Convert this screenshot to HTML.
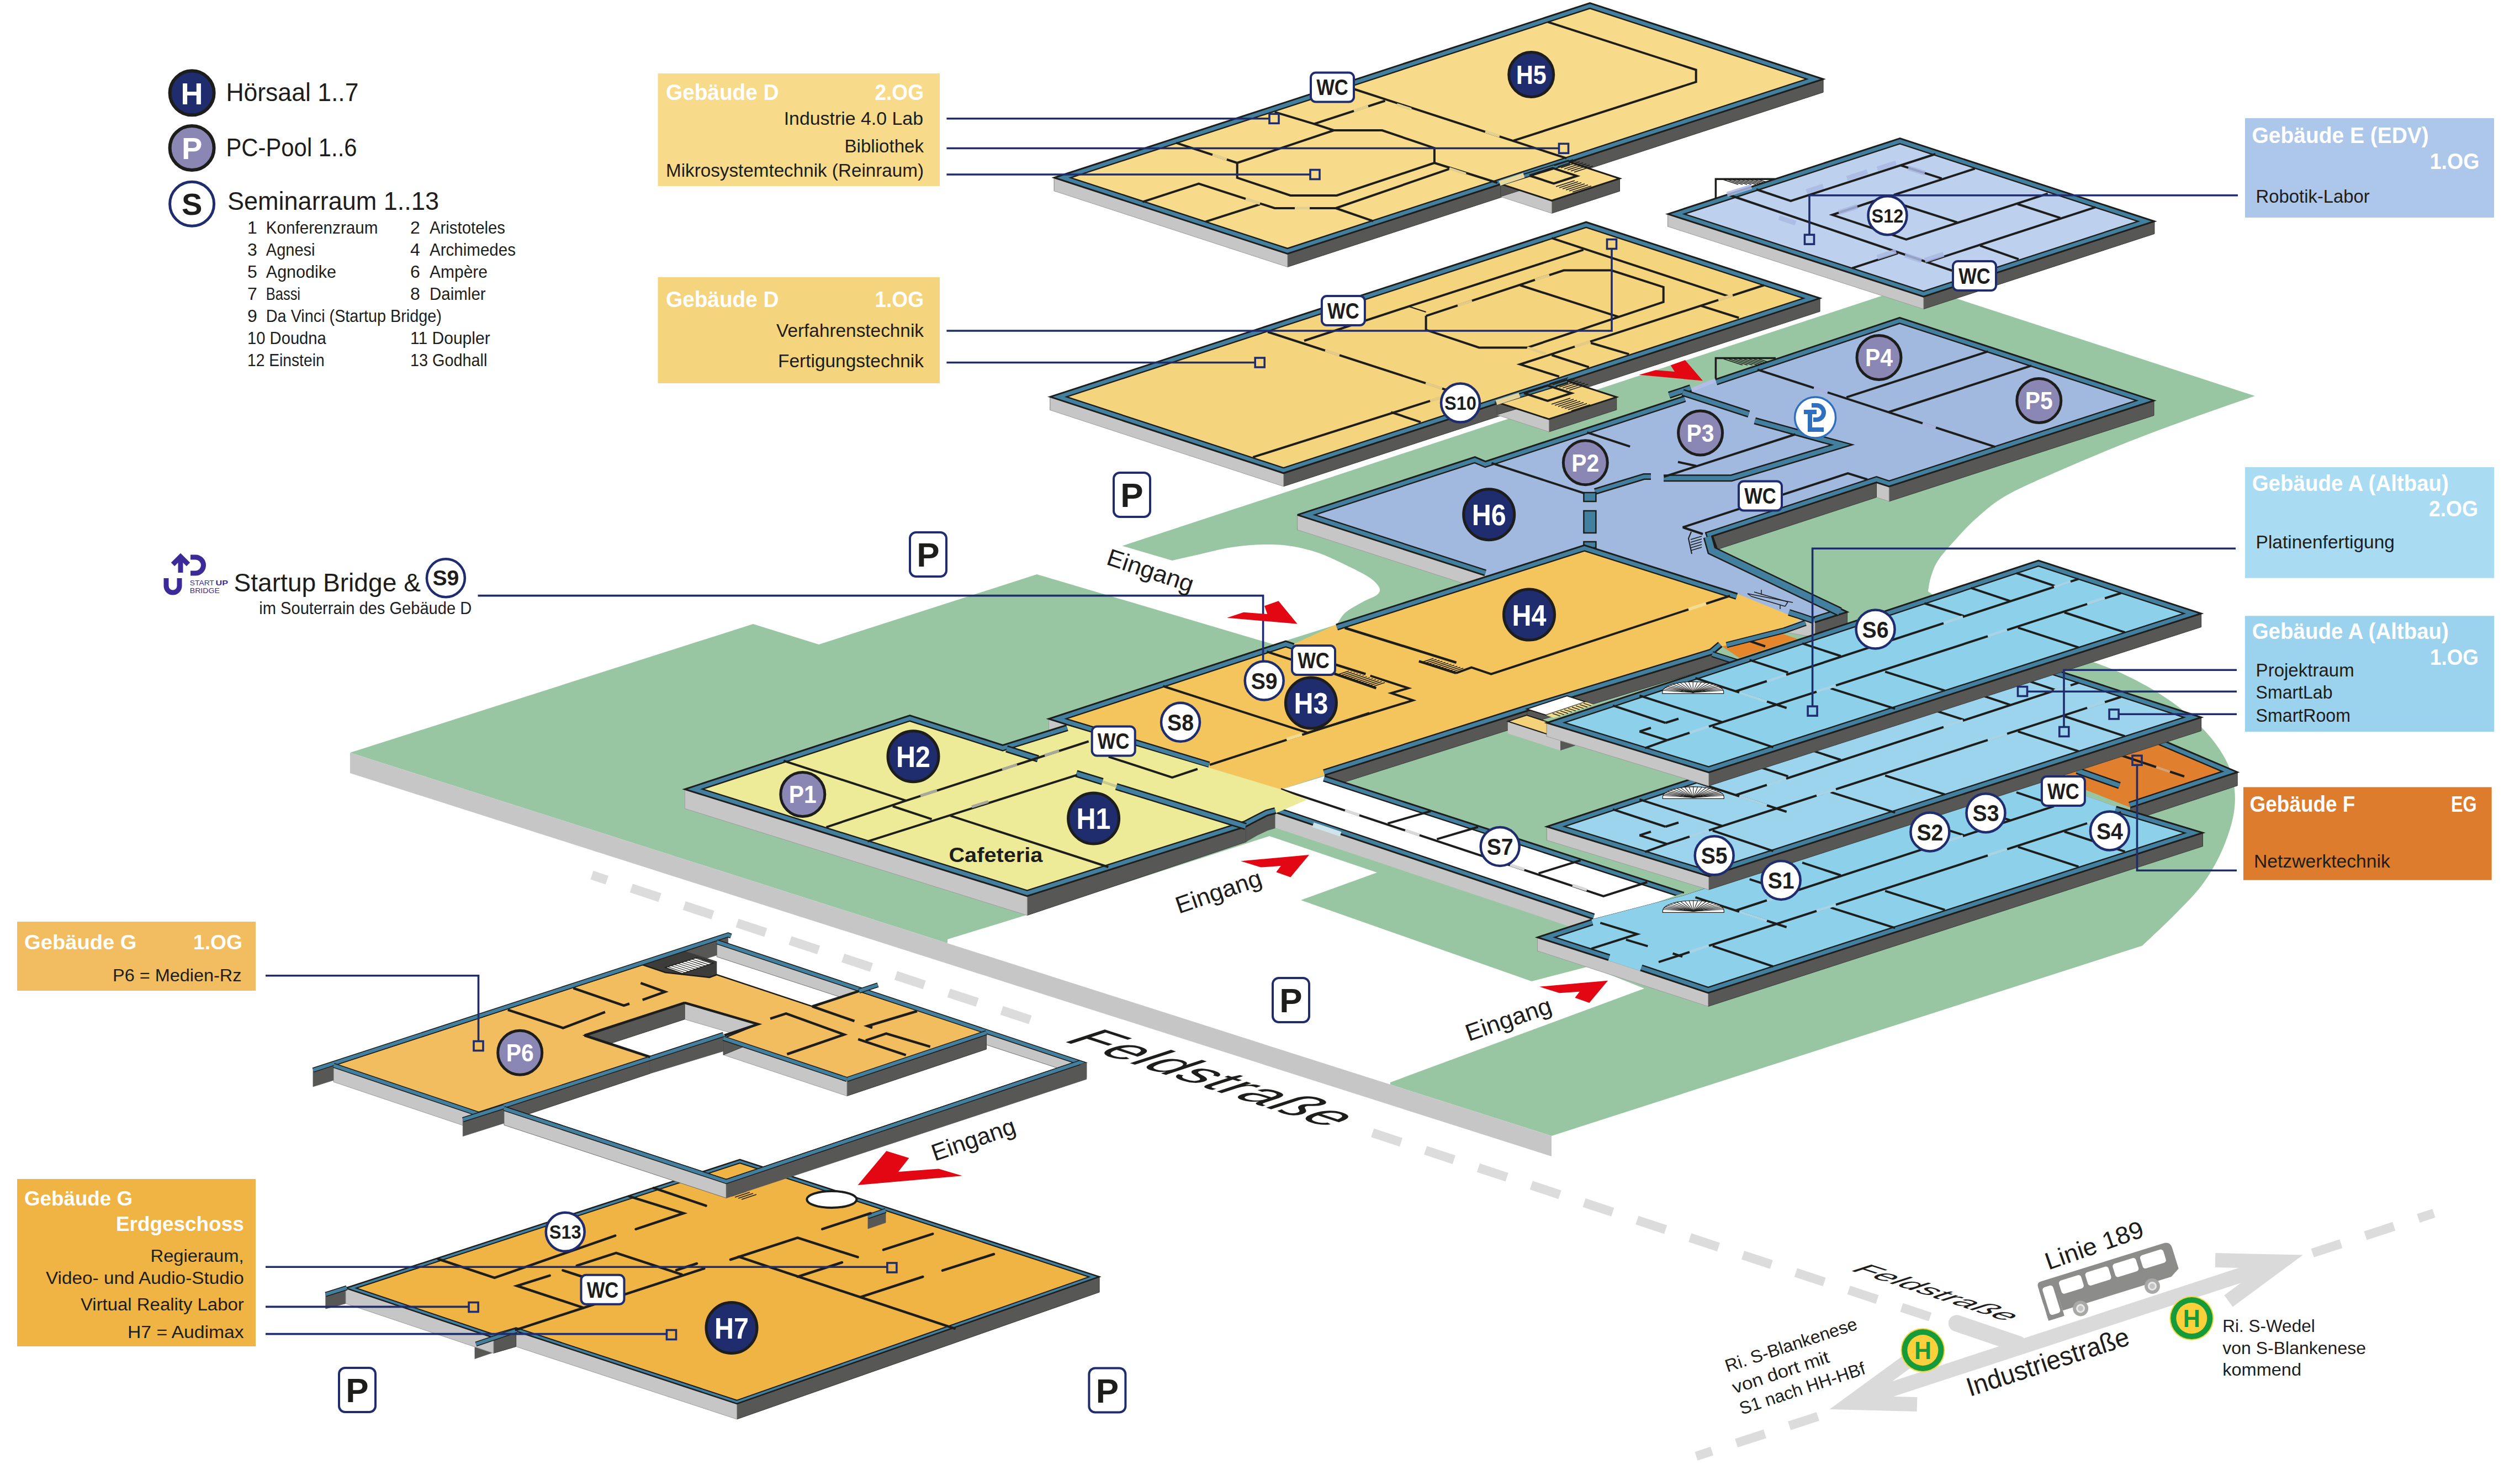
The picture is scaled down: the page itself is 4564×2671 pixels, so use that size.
<!DOCTYPE html>
<html><head><meta charset="utf-8"><title>Lageplan</title>
<style>html,body{margin:0;padding:0;background:#fff}svg{display:block}text{font-family:"Liberation Sans",sans-serif}</style>
</head><body>
<svg xmlns="http://www.w3.org/2000/svg" width="4564" height="2671" viewBox="0 0 4564 2671">
<rect width="4564" height="2671" fill="#fff"/>
<path d="M634 1363 L1364 1130 L1483 1167 L1878 1040 L2307 1167 L2421 1131 C2423.7 1127.3 2429.0 1115.9 2437.0 1109.0 C2445.0 1102.1 2459.5 1094.8 2469.0 1089.5 C2478.5 1084.2 2489.2 1081.2 2494.0 1077.0 C2498.8 1072.8 2500.5 1069.3 2498.0 1064.0 C2495.5 1058.7 2489.2 1051.8 2479.0 1045.0 C2468.8 1038.2 2451.8 1030.2 2437.0 1023.0 C2422.2 1015.8 2405.8 1007.6 2390.0 1002.0 C2374.2 996.4 2358.0 992.2 2342.0 989.5 C2326.0 986.8 2312.5 985.8 2294.0 986.0 C2275.5 986.2 2252.2 987.8 2231.0 991.0 C2209.8 994.2 2185.0 1001.0 2167.0 1005.0 C2149.0 1009.0 2130.3 1013.3 2123.0 1015.0 L2032.5 988.6 L3468 516 L4084 717 C4065.0 723.7 4008.2 743.2 3970.0 757.0 C3931.8 770.8 3893.3 784.8 3855.0 800.0 C3816.7 815.2 3776.5 832.0 3740.0 848.0 C3703.5 864.0 3662.7 881.0 3636.0 896.0 C3609.3 911.0 3596.0 924.2 3580.0 938.0 C3564.0 951.8 3551.7 966.2 3540.0 979.0 C3528.3 991.8 3517.2 1004.0 3510.0 1015.0 C3502.8 1026.0 3500.0 1035.7 3497.0 1045.0 C3494.0 1054.3 3492.8 1066.7 3492.0 1071.0 L3600 1150 L3760 1190 C3764.6 1191.2 3773.0 1192.3 3787.5 1197.5 C3802.0 1202.7 3826.6 1211.7 3846.8 1221.2 C3867.0 1230.7 3889.5 1242.5 3908.5 1254.4 C3927.5 1266.3 3945.0 1279.0 3960.8 1292.4 C3976.6 1305.9 3991.2 1320.1 4003.5 1335.1 C4015.8 1350.1 4027.0 1366.8 4034.3 1382.6 C4041.6 1398.4 4045.5 1413.4 4047.1 1430.0 C4048.7 1446.6 4047.9 1463.3 4043.8 1482.3 C4039.7 1501.3 4031.6 1524.2 4022.5 1544.0 C4013.4 1563.8 4002.6 1582.8 3989.2 1601.0 C3975.8 1619.2 3960.0 1634.6 3941.8 1653.2 C3923.6 1671.8 3890.3 1702.6 3880.0 1712.5 L2810 2057 Z" fill="#99c6a2"/>
<polygon points="1716.0,1701.0 1862.0,1656.0 2299.0,1514.0 2494.0,1580.0 2356.0,1630.0 2774.0,1777.0 2878.0,1750.0 2978.0,1790.0 2518.0,1960.0 2518.0,1970.0 1716.0,1712.0" fill="#fff" stroke="none" stroke-width="0" />
<polygon points="634.0,1363.0 2810.0,2057.0 2810.0,2094.0 634.0,1400.0" fill="#c6c6c6" stroke="none" stroke-width="0" />
<line x1="1072" y1="1584.7" x2="1866" y2="1846.8" stroke="#dcdcdc" stroke-width="16.5" stroke-dasharray="54.5 46.4" stroke-dashoffset="25.7"/>
<line x1="2485.8" y1="2051.4" x2="3496.5" y2="2385" stroke="#dcdcdc" stroke-width="16.5" stroke-dasharray="54.5 46.4"/>
<polygon points="1902.0,718.6 2872.7,402.2 2872.7,426.2 1902.0,742.6" fill="#575756" stroke="#3c3c3b" stroke-width="1" />
<polygon points="2872.7,402.2 3296.0,540.1 3296.0,564.1 2872.7,426.2" fill="#c6c6c6" stroke="#9d9d9c" stroke-width="1" />
<polygon points="3296.0,540.1 2324.6,856.8 2324.6,880.8 3296.0,564.1" fill="#575756" stroke="#3c3c3b" stroke-width="1" />
<polygon points="2324.6,856.8 1902.0,718.6 1902.0,742.6 2324.6,880.8" fill="#c6c6c6" stroke="#9d9d9c" stroke-width="1" />
<clipPath id="c1"><path d="M1902.0 718.6 L2872.7 402.2 L3296.0 540.1 L2324.6 856.8Z"/></clipPath>
<path d="M1902.0 718.6 L2872.7 402.2 L3296.0 540.1 L2324.6 856.8Z" fill="#f5d47e"/>
<path d="M1902.0 718.6 L2872.7 402.2 L3296.0 540.1 L2324.6 856.8Z" fill="none" stroke="#1d1d1b" stroke-width="20.8" clip-path="url(#c1)" stroke-linejoin="miter" stroke-miterlimit="10"/>
<path d="M1902.0 718.6 L2872.7 402.2 L3296.0 540.1 L2324.6 856.8Z" fill="none" stroke="#43809f" stroke-width="16.0" clip-path="url(#c1)" stroke-linejoin="miter" stroke-miterlimit="10"/>
<path d="M1902.0 718.6 L2872.7 402.2 L3296.0 540.1 L2324.6 856.8Z" fill="none" stroke="#1d1d1b" stroke-width="3" stroke-linejoin="miter" stroke-miterlimit="10"/>
<polygon points="2839.0,690.2 2927.7,719.1 2927.7,742.1 2839.0,713.2" fill="#c6c6c6" stroke="#9d9d9c" stroke-width="1" />
<polygon points="2927.7,719.1 2805.3,759.0 2805.3,782.0 2927.7,742.1" fill="#575756" stroke="#3c3c3b" stroke-width="1" />
<polygon points="2805.3,759.0 2710.8,728.2 2710.8,751.2 2805.3,782.0" fill="#c6c6c6" stroke="#9d9d9c" stroke-width="1" />
<polygon points="2710.8,728.2 2839.0,690.2 2839.0,713.2 2710.8,751.2" fill="#575756" stroke="#3c3c3b" stroke-width="1" />
<polygon points="2839.0,690.2 2927.7,719.1 2805.3,759.0 2710.8,728.2" fill="#f5d47e" stroke="#1d1d1b" stroke-width="3" />
<polyline points="2710.8,729.0 2839.0,690.2" fill="none" stroke="#1d1d1b" stroke-width="9" />
<polyline points="2712.0,728.6 2838.0,690.6" fill="none" stroke="#43809f" stroke-width="5" />
<polyline points="2760.0,712.0 2803.0,698.0 2846.0,712.0 2803.0,726.0 2760.0,712.0" fill="none" stroke="#1d1d1b" stroke-width="4" />
<polyline points="2806.0,695.0 2840.0,683.9" fill="none" stroke="#1d1d1b" stroke-width="1.6" />
<polyline points="2812.0,697.0 2846.0,685.9" fill="none" stroke="#1d1d1b" stroke-width="1.6" />
<polyline points="2818.0,698.9 2852.0,687.8" fill="none" stroke="#1d1d1b" stroke-width="1.6" />
<polyline points="2824.0,700.9 2858.0,689.8" fill="none" stroke="#1d1d1b" stroke-width="1.6" />
<polyline points="2830.0,702.8 2864.0,691.7" fill="none" stroke="#1d1d1b" stroke-width="1.6" />
<polyline points="2836.0,704.8 2870.0,693.7" fill="none" stroke="#1d1d1b" stroke-width="1.6" />
<polyline points="2842.0,706.7 2876.0,695.7" fill="none" stroke="#1d1d1b" stroke-width="1.6" />
<polyline points="2810.0,732.0 2844.0,720.9" fill="none" stroke="#1d1d1b" stroke-width="1.6" />
<polyline points="2816.0,734.0 2850.0,722.9" fill="none" stroke="#1d1d1b" stroke-width="1.6" />
<polyline points="2822.0,735.9 2856.0,724.8" fill="none" stroke="#1d1d1b" stroke-width="1.6" />
<polyline points="2828.0,737.9 2862.0,726.8" fill="none" stroke="#1d1d1b" stroke-width="1.6" />
<polyline points="2834.0,739.8 2868.0,728.7" fill="none" stroke="#1d1d1b" stroke-width="1.6" />
<polyline points="2840.0,741.8 2874.0,730.7" fill="none" stroke="#1d1d1b" stroke-width="1.6" />
<polyline points="2846.0,743.7 2880.0,732.7" fill="none" stroke="#1d1d1b" stroke-width="1.6" />
<polyline points="2710.0,729.0 2752.0,715.5" fill="none" stroke="#e6d39a" stroke-width="9" />
<polyline points="2296.0,601.0 2644.0,714.0" fill="none" stroke="#1d1d1b" stroke-width="4" />
<polyline points="2362.0,617.0 2555.0,553.6 2867.7,452.4" fill="none" stroke="#1d1d1b" stroke-width="4" />
<polyline points="2810.3,431.2 3130.8,536.7" fill="none" stroke="#1d1d1b" stroke-width="4" />
<polyline points="3194.8,516.5 3080.2,553.6 2753.0,659.8 2823.8,681.8" fill="none" stroke="#1d1d1b" stroke-width="4" />
<polyline points="3080.2,553.6 3149.3,575.5" fill="none" stroke="#1d1d1b" stroke-width="4" />
<polyline points="2582.6,572.1 2832.2,489.5 2918.3,489.5 3012.7,519.9 3012.7,546.8 2931.7,573.8 2766.5,629.5 2678.8,629.5 2582.6,597.4 2582.6,572.1" fill="none" stroke="#1d1d1b" stroke-width="4" stroke-linejoin="miter"/>
<polyline points="2552.3,555.3 2582.6,565.0" fill="none" stroke="#1d1d1b" stroke-width="2" />
<polyline points="2753.0,516.5 2931.7,573.8" fill="none" stroke="#1d1d1b" stroke-width="4" />
<polyline points="2810.3,643.0 2877.8,664.9" fill="none" stroke="#1d1d1b" stroke-width="4" />
<polyline points="2881.2,621.0 2950.3,641.3" fill="none" stroke="#1d1d1b" stroke-width="4" />
<polyline points="2269.3,827.9 2615.7,717.9" fill="none" stroke="#1d1d1b" stroke-width="4" />
<polyline points="2519.3,746.4 2572.9,764.3" fill="none" stroke="#1d1d1b" stroke-width="4" />
<polyline points="2400.0,634.5 2426.0,643.0" fill="none" stroke="#e3cb85" stroke-width="5" />
<polyline points="2582.0,693.8 2612.0,703.5" fill="none" stroke="#e3cb85" stroke-width="5" />
<polyline points="2640.0,553.5 2666.0,545.0" fill="none" stroke="#e3cb85" stroke-width="5" />
<polyline points="2780.0,507.0 2806.0,498.4" fill="none" stroke="#e3cb85" stroke-width="5" />
<polyline points="3112.0,543.0 3138.0,534.5" fill="none" stroke="#e3cb85" stroke-width="5" />
<polyline points="2766.0,629.5 2800.0,641.0" fill="none" stroke="#e3cb85" stroke-width="5" />
<polyline points="2852.0,627.5 2880.0,618.5" fill="none" stroke="#e3cb85" stroke-width="5" />
<polyline points="2590.0,726.0 2620.0,716.5" fill="none" stroke="#e3cb85" stroke-width="5" />
<polygon points="1909.3,321.8 2879.5,5.5 2879.5,29.5 1909.3,345.8" fill="#575756" stroke="#3c3c3b" stroke-width="1" />
<polygon points="2879.5,5.5 3302.0,143.2 3302.0,167.2 2879.5,29.5" fill="#c6c6c6" stroke="#9d9d9c" stroke-width="1" />
<polygon points="3302.0,143.2 2331.8,459.5 2331.8,483.5 3302.0,167.2" fill="#575756" stroke="#3c3c3b" stroke-width="1" />
<polygon points="2331.8,459.5 1909.3,321.8 1909.3,345.8 2331.8,483.5" fill="#c6c6c6" stroke="#9d9d9c" stroke-width="1" />
<clipPath id="c2"><path d="M1909.3 321.8 L2879.5 5.5 L3302.0 143.2 L2331.8 459.5Z"/></clipPath>
<path d="M1909.3 321.8 L2879.5 5.5 L3302.0 143.2 L2331.8 459.5Z" fill="#f7db8b"/>
<path d="M1909.3 321.8 L2879.5 5.5 L3302.0 143.2 L2331.8 459.5Z" fill="none" stroke="#1d1d1b" stroke-width="20.8" clip-path="url(#c2)" stroke-linejoin="miter" stroke-miterlimit="10"/>
<path d="M1909.3 321.8 L2879.5 5.5 L3302.0 143.2 L2331.8 459.5Z" fill="none" stroke="#43809f" stroke-width="16.0" clip-path="url(#c2)" stroke-linejoin="miter" stroke-miterlimit="10"/>
<path d="M1909.3 321.8 L2879.5 5.5 L3302.0 143.2 L2331.8 459.5Z" fill="none" stroke="#1d1d1b" stroke-width="3" stroke-linejoin="miter" stroke-miterlimit="10"/>
<polygon points="2842.4,293.5 2933.4,323.2 2933.4,346.2 2842.4,316.5" fill="#c6c6c6" stroke="#9d9d9c" stroke-width="1" />
<polygon points="2933.4,323.2 2810.3,363.3 2810.3,386.3 2933.4,346.2" fill="#575756" stroke="#3c3c3b" stroke-width="1" />
<polygon points="2810.3,363.3 2717.6,333.1 2717.6,356.1 2810.3,386.3" fill="#c6c6c6" stroke="#9d9d9c" stroke-width="1" />
<polygon points="2717.6,333.1 2842.4,293.5 2842.4,316.5 2717.6,356.1" fill="#575756" stroke="#3c3c3b" stroke-width="1" />
<polygon points="2842.4,293.5 2933.4,323.2 2810.3,363.3 2717.6,333.1" fill="#f7db8b" stroke="#1d1d1b" stroke-width="3" />
<polyline points="2717.6,332.0 2842.4,293.5" fill="none" stroke="#1d1d1b" stroke-width="9" />
<polyline points="2719.0,331.6 2841.0,294.0" fill="none" stroke="#43809f" stroke-width="5" />
<polyline points="2770.0,318.0 2812.0,304.3 2856.0,318.7 2814.0,332.3 2770.0,318.0" fill="none" stroke="#1d1d1b" stroke-width="4" />
<polyline points="2815.0,300.0 2849.0,288.9" fill="none" stroke="#1d1d1b" stroke-width="1.6" />
<polyline points="2821.0,302.0 2855.0,290.9" fill="none" stroke="#1d1d1b" stroke-width="1.6" />
<polyline points="2827.0,303.9 2861.0,292.8" fill="none" stroke="#1d1d1b" stroke-width="1.6" />
<polyline points="2833.0,305.9 2867.0,294.8" fill="none" stroke="#1d1d1b" stroke-width="1.6" />
<polyline points="2839.0,307.8 2873.0,296.7" fill="none" stroke="#1d1d1b" stroke-width="1.6" />
<polyline points="2845.0,309.8 2879.0,298.7" fill="none" stroke="#1d1d1b" stroke-width="1.6" />
<polyline points="2851.0,311.7 2885.0,300.7" fill="none" stroke="#1d1d1b" stroke-width="1.6" />
<polyline points="2818.0,338.0 2852.0,326.9" fill="none" stroke="#1d1d1b" stroke-width="1.6" />
<polyline points="2824.0,340.0 2858.0,328.9" fill="none" stroke="#1d1d1b" stroke-width="1.6" />
<polyline points="2830.0,341.9 2864.0,330.8" fill="none" stroke="#1d1d1b" stroke-width="1.6" />
<polyline points="2836.0,343.9 2870.0,332.8" fill="none" stroke="#1d1d1b" stroke-width="1.6" />
<polyline points="2842.0,345.8 2876.0,334.7" fill="none" stroke="#1d1d1b" stroke-width="1.6" />
<polyline points="2848.0,347.8 2882.0,336.7" fill="none" stroke="#1d1d1b" stroke-width="1.6" />
<polyline points="2854.0,349.7 2888.0,338.7" fill="none" stroke="#1d1d1b" stroke-width="1.6" />
<polyline points="2716.0,332.0 2760.0,317.5" fill="none" stroke="#e6d9a0" stroke-width="9" />
<polyline points="2240.7,295.0 2415.7,236.0 2503.2,236.0 2597.9,268.2 2597.9,295.0 2421.0,354.0 2337.0,354.0 2240.7,321.8 2240.7,295.0" fill="none" stroke="#1d1d1b" stroke-width="4" stroke-linejoin="miter"/>
<polyline points="2130.0,258.6 2240.7,295.0" fill="none" stroke="#1d1d1b" stroke-width="4" />
<polyline points="2069.3,365.7 2171.0,332.5 2308.6,377.0 2419.3,377.0 2626.5,305.3" fill="none" stroke="#1d1d1b" stroke-width="4" />
<polyline points="2597.9,295.0 2712.0,331.0" fill="none" stroke="#1d1d1b" stroke-width="4" />
<polyline points="2308.6,202.9 2380.0,224.3 2415.7,236.0" fill="none" stroke="#1d1d1b" stroke-width="4" />
<polyline points="2380.0,224.3 2508.6,182.5" fill="none" stroke="#1d1d1b" stroke-width="4" />
<polyline points="2451.4,161.0 2837.3,286.7" fill="none" stroke="#1d1d1b" stroke-width="4" />
<polyline points="2281.8,370.0 2183.6,401.4" fill="none" stroke="#1d1d1b" stroke-width="4" />
<polyline points="2419.3,377.0 2487.0,400.4" fill="none" stroke="#1d1d1b" stroke-width="4" />
<polyline points="2803.6,39.8 3071.7,126.5 3071.7,148.4 2741.2,254.7" fill="none" stroke="#1d1d1b" stroke-width="4" stroke-linejoin="miter"/>
<polyline points="2196.0,280.0 2222.0,288.5" fill="none" stroke="#e3cf8e" stroke-width="5" />
<polyline points="2452.0,200.8 2478.0,192.3" fill="none" stroke="#e3cf8e" stroke-width="5" />
<polyline points="2530.0,189.5 2556.0,198.0" fill="none" stroke="#e3cf8e" stroke-width="5" />
<polyline points="2690.0,238.0 2716.0,246.5" fill="none" stroke="#e3cf8e" stroke-width="5" />
<polyline points="2345.0,377.0 2372.0,377.0" fill="none" stroke="#e3cf8e" stroke-width="5" />
<polyline points="2256.0,360.0 2282.0,368.5" fill="none" stroke="#e3cf8e" stroke-width="5" />
<polyline points="2625.0,305.0 2655.0,315.0" fill="none" stroke="#e3cf8e" stroke-width="5" />
<polygon points="3107.4,324.2 3213,324.2 3213,340 3107.4,372" fill="#fff" stroke="#1d1d1b" stroke-width="3.5"/>
<polyline points="3118.0,324.2 3148.0,334.0" fill="none" stroke="#1d1d1b" stroke-width="1.5" />
<polyline points="3126.0,324.2 3156.0,334.0" fill="none" stroke="#1d1d1b" stroke-width="1.5" />
<polyline points="3134.0,324.2 3164.0,334.0" fill="none" stroke="#1d1d1b" stroke-width="1.5" />
<polyline points="3142.0,324.2 3172.0,334.0" fill="none" stroke="#1d1d1b" stroke-width="1.5" />
<polyline points="3150.0,324.2 3180.0,334.0" fill="none" stroke="#1d1d1b" stroke-width="1.5" />
<polyline points="3158.0,324.2 3188.0,334.0" fill="none" stroke="#1d1d1b" stroke-width="1.5" />
<polyline points="3166.0,324.2 3196.0,334.0" fill="none" stroke="#1d1d1b" stroke-width="1.5" />
<polyline points="3174.0,324.2 3204.0,334.0" fill="none" stroke="#1d1d1b" stroke-width="1.5" />
<polyline points="3182.0,324.2 3212.0,334.0" fill="none" stroke="#1d1d1b" stroke-width="1.5" />
<polygon points="3020.7,387.6 3441.0,250.6 3441.0,273.2 3020.7,410.2" fill="#575756" stroke="#3c3c3b" stroke-width="1" />
<polygon points="3441.0,250.6 3901.8,400.8 3901.8,423.4 3441.0,273.2" fill="#c6c6c6" stroke="#9d9d9c" stroke-width="1" />
<polygon points="3901.8,400.8 3483.7,537.1 3483.7,559.7 3901.8,423.4" fill="#575756" stroke="#3c3c3b" stroke-width="1" />
<polygon points="3483.7,537.1 3020.7,387.6 3020.7,410.2 3483.7,559.7" fill="#c6c6c6" stroke="#9d9d9c" stroke-width="1" />
<clipPath id="c3"><path d="M3020.7 387.6 L3441.0 250.6 L3901.8 400.8 L3483.7 537.1Z"/></clipPath>
<path d="M3020.7 387.6 L3441.0 250.6 L3901.8 400.8 L3483.7 537.1Z" fill="#bdd0ee"/>
<path d="M3020.7 387.6 L3441.0 250.6 L3901.8 400.8 L3483.7 537.1Z" fill="none" stroke="#1d1d1b" stroke-width="20.8" clip-path="url(#c3)" stroke-linejoin="miter" stroke-miterlimit="10"/>
<path d="M3020.7 387.6 L3441.0 250.6 L3901.8 400.8 L3483.7 537.1Z" fill="none" stroke="#43809f" stroke-width="16.0" clip-path="url(#c3)" stroke-linejoin="miter" stroke-miterlimit="10"/>
<path d="M3020.7 387.6 L3441.0 250.6 L3901.8 400.8 L3483.7 537.1Z" fill="none" stroke="#1d1d1b" stroke-width="3" stroke-linejoin="miter" stroke-miterlimit="10"/>
<polyline points="3130.0,352.5 3535.3,490.0" fill="none" stroke="#1d1d1b" stroke-width="4" />
<polyline points="3181.0,343.0 3243.2,363.8 3505.2,279.0" fill="none" stroke="#1d1d1b" stroke-width="4" />
<polyline points="3443.0,299.7 3516.5,323.1" fill="none" stroke="#1d1d1b" stroke-width="4" />
<polyline points="3576.8,305.4 3430.0,353.0" fill="none" stroke="#1d1d1b" stroke-width="4" />
<polyline points="3400.0,362.0 3318.6,389.1 3452.4,433.6 3708.7,350.6" fill="none" stroke="#1d1d1b" stroke-width="4" />
<polyline points="3441.0,369.5 3544.7,402.7" fill="none" stroke="#1d1d1b" stroke-width="4" />
<polyline points="3654.0,369.5 3731.4,394.7" fill="none" stroke="#1d1d1b" stroke-width="4" />
<polyline points="3795.4,375.1 3488.0,475.3" fill="none" stroke="#1d1d1b" stroke-width="4" />
<polyline points="3354.4,485.6 3437.0,458.7" fill="none" stroke="#1d1d1b" stroke-width="4" />
<polyline points="3586.2,444.9 3656.0,469.4" fill="none" stroke="#1d1d1b" stroke-width="4" />
<polyline points="3128.0,352.0 3172.0,338.0" fill="none" stroke="#a9b9e3" stroke-width="9" opacity="0.85"/>
<polyline points="3222.0,394.0 3252.0,404.0" fill="none" stroke="#a9b9e3" stroke-width="9" opacity="0.85"/>
<polyline points="3272.0,347.0 3302.0,337.0" fill="none" stroke="#a9b9e3" stroke-width="9" opacity="0.85"/>
<polyline points="3345.0,323.0 3382.0,311.0" fill="none" stroke="#a9b9e3" stroke-width="9" opacity="0.85"/>
<polyline points="3400.0,306.0 3434.0,295.0" fill="none" stroke="#a9b9e3" stroke-width="9" opacity="0.85"/>
<polyline points="3456.0,304.0 3486.0,313.5" fill="none" stroke="#a9b9e3" stroke-width="9" opacity="0.85"/>
<polyline points="3330.0,385.0 3364.0,374.0" fill="none" stroke="#a9b9e3" stroke-width="9" opacity="0.85"/>
<polyline points="3400.0,466.0 3434.0,455.0" fill="none" stroke="#a9b9e3" stroke-width="9" opacity="0.85"/>
<polyline points="3450.0,462.0 3480.0,472.0" fill="none" stroke="#a9b9e3" stroke-width="9" opacity="0.85"/>
<polyline points="3486.0,471.5 3520.0,460.5" fill="none" stroke="#a9b9e3" stroke-width="9" opacity="0.85"/>
<polygon points="3107.4,648.5 3216,648.5 3107.4,686" fill="#99c6a2"/>
<polyline points="3107.4,686.0 3107.4,648.5 3216.0,648.5" fill="none" stroke="#1d1d1b" stroke-width="3.5" />
<polyline points="3122.0,650.0 3156.0,661.0" fill="none" stroke="#1d1d1b" stroke-width="1.4" />
<polyline points="3131.0,650.0 3165.0,661.0" fill="none" stroke="#1d1d1b" stroke-width="1.4" />
<polyline points="3140.0,650.0 3174.0,661.0" fill="none" stroke="#1d1d1b" stroke-width="1.4" />
<polyline points="3149.0,650.0 3183.0,661.0" fill="none" stroke="#1d1d1b" stroke-width="1.4" />
<polyline points="3158.0,650.0 3192.0,661.0" fill="none" stroke="#1d1d1b" stroke-width="1.4" />
<polyline points="3167.0,650.0 3201.0,661.0" fill="none" stroke="#1d1d1b" stroke-width="1.4" />
<polyline points="3176.0,650.0 3210.0,661.0" fill="none" stroke="#1d1d1b" stroke-width="1.4" />
<polyline points="3185.0,650.0 3219.0,661.0" fill="none" stroke="#1d1d1b" stroke-width="1.4" />
<polygon points="2349.7,932.4 2671.3,827.6 2671.3,854.6 2349.7,959.4" fill="#575756" stroke="#3c3c3b" stroke-width="1" />
<polygon points="2671.3,827.6 2690.3,835.6 2690.3,862.6 2671.3,854.6" fill="#c6c6c6" stroke="#9d9d9c" stroke-width="1" />
<polygon points="2690.3,835.6 3050.0,717.5 3050.0,744.5 2690.3,862.6" fill="#575756" stroke="#3c3c3b" stroke-width="1" />
<polygon points="3050.0,717.5 3062.0,706.0 3062.0,733.0 3050.0,744.5" fill="#575756" stroke="#3c3c3b" stroke-width="1" />
<polygon points="3062.0,706.0 3106.7,687.1 3106.7,714.1 3062.0,733.0" fill="#575756" stroke="#3c3c3b" stroke-width="1" />
<polygon points="3106.7,687.1 3440.6,575.3 3440.6,602.3 3106.7,714.1" fill="#575756" stroke="#3c3c3b" stroke-width="1" />
<polygon points="3440.6,575.3 3901.0,725.4 3901.0,752.4 3440.6,602.3" fill="#c6c6c6" stroke="#9d9d9c" stroke-width="1" />
<polygon points="3901.0,725.4 3421.2,881.0 3421.2,908.0 3901.0,752.4" fill="#575756" stroke="#3c3c3b" stroke-width="1" />
<polygon points="3421.2,881.0 3398.5,873.5 3398.5,900.5 3421.2,908.0" fill="#c6c6c6" stroke="#9d9d9c" stroke-width="1" />
<polygon points="3398.5,873.5 3101.5,970.8 3101.5,997.8 3398.5,900.5" fill="#575756" stroke="#3c3c3b" stroke-width="1" />
<polygon points="3101.5,970.8 3110.0,995.2 3110.0,1022.2 3101.5,997.8" fill="#c6c6c6" stroke="#9d9d9c" stroke-width="1" />
<polygon points="3110.0,995.2 3345.6,1108.2 3345.6,1135.2 3110.0,1022.2" fill="#c6c6c6" stroke="#9d9d9c" stroke-width="1" />
<polygon points="3345.6,1108.2 3287.0,1127.0 3287.0,1154.0 3345.6,1135.2" fill="#575756" stroke="#3c3c3b" stroke-width="1" />
<polygon points="3287.0,1127.0 2890.0,1060.0 2890.0,1087.0 3287.0,1154.0" fill="#c6c6c6" stroke="#9d9d9c" stroke-width="1" />
<polygon points="2890.0,1060.0 2688.7,1041.9 2688.7,1068.9 2890.0,1087.0" fill="#c6c6c6" stroke="#9d9d9c" stroke-width="1" />
<polygon points="2688.7,1041.9 2349.7,932.4 2349.7,959.4 2688.7,1068.9" fill="#c6c6c6" stroke="#9d9d9c" stroke-width="1" />
<clipPath id="c4"><path d="M2349.7 932.4 L2671.3 827.6 L2690.3 835.6 L3050.0 717.5 L3062.0 706.0 L3106.7 687.1 L3440.6 575.3 L3901.0 725.4 L3421.2 881.0 L3398.5 873.5 L3101.5 970.8 L3110.0 995.2 L3345.6 1108.2 L3287.0 1127.0 L2890.0 1060.0 L2688.7 1041.9Z"/></clipPath>
<path d="M2349.7 932.4 L2671.3 827.6 L2690.3 835.6 L3050.0 717.5 L3062.0 706.0 L3106.7 687.1 L3440.6 575.3 L3901.0 725.4 L3421.2 881.0 L3398.5 873.5 L3101.5 970.8 L3110.0 995.2 L3345.6 1108.2 L3287.0 1127.0 L2890.0 1060.0 L2688.7 1041.9Z" fill="#a1b8df"/>
<path d="M2349.7 932.4 L2671.3 827.6 L2690.3 835.6 L3050.0 717.5 M3106.7 687.1 L3440.6 575.3 L3901.0 725.4 L3421.2 881.0 L3398.5 873.5 L3101.5 970.8 L3110.0 995.2 L3345.6 1108.2 L3287.0 1127.0 M2688.7 1041.9 L2349.7 932.4" fill="none" stroke="#1d1d1b" stroke-width="21.8" clip-path="url(#c4)" stroke-linejoin="miter" stroke-miterlimit="10"/>
<path d="M2349.7 932.4 L2671.3 827.6 L2690.3 835.6 L3050.0 717.5 M3106.7 687.1 L3440.6 575.3 L3901.0 725.4 L3421.2 881.0 L3398.5 873.5 L3101.5 970.8 L3110.0 995.2 L3345.6 1108.2 L3287.0 1127.0 M2688.7 1041.9 L2349.7 932.4" fill="none" stroke="#43809f" stroke-width="17.0" clip-path="url(#c4)" stroke-linejoin="miter" stroke-miterlimit="10"/>
<path d="M2349.7 932.4 L2671.3 827.6 L2690.3 835.6 L3050.0 717.5 M3106.7 687.1 L3440.6 575.3 L3901.0 725.4 L3421.2 881.0 L3398.5 873.5 L3101.5 970.8 L3110.0 995.2 L3345.6 1108.2 L3287.0 1127.0 M2688.7 1041.9 L2349.7 932.4" fill="none" stroke="#1d1d1b" stroke-width="3" stroke-linejoin="miter" stroke-miterlimit="10"/>
<polyline points="3064.0,706.0 3107.0,688.5" fill="none" stroke="#b4bce8" stroke-width="7" />
<polyline points="3093.0,972.0 3100.0,997.0 3332.0,1108.0" fill="none" stroke="#1d1d1b" stroke-width="17.0" stroke-linejoin="miter" stroke-linecap="butt"/>
<polyline points="3093.0,972.0 3100.0,997.0 3332.0,1108.0" fill="none" stroke="#43809f" stroke-width="12" stroke-linejoin="miter" stroke-linecap="butt"/>
<polyline points="3023.0,715.5 3062.0,702.5" fill="none" stroke="#1d1d1b" stroke-width="13.0" stroke-linejoin="miter" stroke-linecap="butt"/>
<polyline points="3023.0,715.5 3062.0,702.5" fill="none" stroke="#43809f" stroke-width="8" stroke-linejoin="miter" stroke-linecap="butt"/>
<polyline points="3047.6,710.8 3167.3,749.8" fill="none" stroke="#1d1d1b" stroke-width="13.0" stroke-linejoin="miter" stroke-linecap="butt"/>
<polyline points="3047.6,710.8 3167.3,749.8" fill="none" stroke="#43809f" stroke-width="8" stroke-linejoin="miter" stroke-linecap="butt"/>
<polyline points="3178.2,762.0 3336.0,805.5 3135.5,865.8 3013.0,865.8" fill="none" stroke="#1d1d1b" stroke-width="13.0" stroke-linejoin="miter" stroke-linecap="butt"/>
<polyline points="3178.2,762.0 3336.0,805.5 3135.5,865.8 3013.0,865.8" fill="none" stroke="#43809f" stroke-width="8" stroke-linejoin="miter" stroke-linecap="butt"/>
<polyline points="2888.7,890.0 2977.6,863.0 2990.0,863.0" fill="none" stroke="#1d1d1b" stroke-width="12.0" stroke-linejoin="miter" stroke-linecap="butt"/>
<polyline points="2888.7,890.0 2977.6,863.0 2990.0,863.0" fill="none" stroke="#43809f" stroke-width="7" stroke-linejoin="miter" stroke-linecap="butt"/>
<rect x="2868.4" y="892" width="22" height="16" fill="#43809f" stroke="#1d1d1b" stroke-width="2.5"/>
<rect x="2868.4" y="925" width="22" height="40" fill="#43809f" stroke="#1d1d1b" stroke-width="2.5"/>
<rect x="2868.4" y="981" width="22" height="11" fill="#43809f" stroke="#1d1d1b" stroke-width="2.5"/>
<polyline points="2701.4,838.7 2869.7,893.3" fill="none" stroke="#1d1d1b" stroke-width="4" />
<polyline points="2874.4,783.2 2952.2,808.6" fill="none" stroke="#1d1d1b" stroke-width="4" />
<polyline points="3251.5,786.5 3013.5,863.4" fill="none" stroke="#1d1d1b" stroke-width="4" />
<polyline points="3039.0,836.5 3072.0,843.8" fill="none" stroke="#1d1d1b" stroke-width="4" />
<polyline points="3183.0,669.3 3613.4,809.2" fill="none" stroke="#1d1d1b" stroke-width="4" />
<polyline points="3344.2,719.3 3600.5,636.4" fill="none" stroke="#1d1d1b" stroke-width="4" />
<polyline points="3421.2,746.0 3679.2,662.2" fill="none" stroke="#1d1d1b" stroke-width="4" />
<polyline points="3047.6,954.9 3346.7,857.2 3382.0,868.2" fill="none" stroke="#1d1d1b" stroke-width="4" />
<polyline points="3285.0,702.5 3310.0,710.5" fill="none" stroke="#a9b3e0" stroke-width="5" />
<polyline points="3482.0,766.5 3506.0,774.5" fill="none" stroke="#a9b3e0" stroke-width="5" />
<polyline points="3047.6,954.9 3084.0,967.0" fill="none" stroke="#1d1d1b" stroke-width="4" />
<polyline points="3063.0,963.0 3058.0,975.0 3064.0,1003.0" fill="none" stroke="#1d1d1b" stroke-width="2" />
<polyline points="3062.0,977.0 3082.0,971.0" fill="none" stroke="#1d1d1b" stroke-width="1.5" />
<polyline points="3062.0,982.0 3082.0,976.0" fill="none" stroke="#1d1d1b" stroke-width="1.5" />
<polyline points="3062.0,987.0 3082.0,981.0" fill="none" stroke="#1d1d1b" stroke-width="1.5" />
<polyline points="3062.0,992.0 3082.0,986.0" fill="none" stroke="#1d1d1b" stroke-width="1.5" />
<polyline points="3062.0,997.0 3082.0,991.0" fill="none" stroke="#1d1d1b" stroke-width="1.5" />
<polyline points="3165.0,1075.0 3247.0,1091.0" fill="none" stroke="#1d1d1b" stroke-width="1.5" />
<polyline points="3172.0,1080.0 3233.0,1098.0" fill="none" stroke="#1d1d1b" stroke-width="1.5" />
<polyline points="3177.0,1072.0 3238.0,1090.0" fill="none" stroke="#1d1d1b" stroke-width="1.5" />
<polyline points="3190.0,1068.0 3190.0,1077.0" fill="none" stroke="#1d1d1b" stroke-width="1.5" />
<polyline points="3224.0,1095.0 3224.0,1103.0" fill="none" stroke="#1d1d1b" stroke-width="1.5" />
<polyline points="3165.0,1075.0 3172.0,1080.0" fill="none" stroke="#1d1d1b" stroke-width="1.5" />
<polyline points="3238.0,1090.0 3233.0,1098.0" fill="none" stroke="#1d1d1b" stroke-width="1.5" />
<polygon points="1899.4,1301.7 1931.4,1311.9 1931.4,1335.9 1899.4,1325.7" fill="#c6c6c6" stroke="#9d9d9c" stroke-width="1" />
<polygon points="3101.5,1185.0 2765.7,1287.3 2765.7,1311.3 3101.5,1209.0" fill="#575756" stroke="#3c3c3b" stroke-width="1" />
<polygon points="2765.7,1287.3 2399.4,1403.6 2399.4,1427.6 2765.7,1311.3" fill="#575756" stroke="#3c3c3b" stroke-width="1" />
<clipPath id="c5"><path d="M1899.4 1301.7 L2328.6 1161.1 L2343.9 1166.1 L2419.7 1131.1 L2869.6 987.4 L3146.7 1075.3 L3260.0 1121.7 L3223.5 1146.0 L3118.6 1170.5 L3101.5 1185.0 L2765.7 1287.3 L2399.4 1403.6 L2318.9 1430.0 L2188.3 1389.7 L1931.4 1311.9Z"/></clipPath>
<path d="M1899.4 1301.7 L2328.6 1161.1 L2343.9 1166.1 L2419.7 1131.1 L2869.6 987.4 L3146.7 1075.3 L3260.0 1121.7 L3223.5 1146.0 L3118.6 1170.5 L3101.5 1185.0 L2765.7 1287.3 L2399.4 1403.6 L2318.9 1430.0 L2188.3 1389.7 L1931.4 1311.9Z" fill="#f4c55c"/>
<path d="M1931.4 1311.9 L1899.4 1301.7 L2328.6 1161.1 L2343.9 1166.1 M2419.7 1131.1 L2869.6 987.4 L3146.7 1075.3 M3118.6 1170.5 L3101.5 1185.0 L2765.7 1287.3 L2399.4 1403.6 M2188.3 1389.7 L1931.4 1311.9" fill="none" stroke="#1d1d1b" stroke-width="21.8" clip-path="url(#c5)" stroke-linejoin="miter" stroke-miterlimit="10"/>
<path d="M1931.4 1311.9 L1899.4 1301.7 L2328.6 1161.1 L2343.9 1166.1 M2419.7 1131.1 L2869.6 987.4 L3146.7 1075.3 M3118.6 1170.5 L3101.5 1185.0 L2765.7 1287.3 L2399.4 1403.6 M2188.3 1389.7 L1931.4 1311.9" fill="none" stroke="#43809f" stroke-width="17.0" clip-path="url(#c5)" stroke-linejoin="miter" stroke-miterlimit="10"/>
<path d="M1931.4 1311.9 L1899.4 1301.7 L2328.6 1161.1 L2343.9 1166.1 M2419.7 1131.1 L2869.6 987.4 L3146.7 1075.3 M3118.6 1170.5 L3101.5 1185.0 L2765.7 1287.3 L2399.4 1403.6 M2188.3 1389.7 L1931.4 1311.9" fill="none" stroke="#1d1d1b" stroke-width="3" stroke-linejoin="miter" stroke-miterlimit="10"/>
<polygon points="3101.0,1186.0 3145.0,1200.0 3145.0,1212.0 3101.0,1212.0" fill="#575756" stroke="none" stroke-width="0" />
<polyline points="3101.0,1184.5 3146.0,1199.0" fill="none" stroke="#1d1d1b" stroke-width="11" stroke-linejoin="miter" stroke-linecap="butt"/>
<polyline points="3101.0,1184.5 3146.0,1199.0" fill="none" stroke="#43809f" stroke-width="7" stroke-linejoin="miter" stroke-linecap="butt"/>
<polygon points="3118.6,1170.5 3223.5,1146.0 3255.3,1157.0 3150.3,1191.2" fill="#e5862d" stroke="none" stroke-width="0" />
<polyline points="3165.0,1159.5 3197.0,1170.5" fill="none" stroke="#1d1d1b" stroke-width="4" />
<polyline points="3127.0,1168.0 3232.0,1141.5 3270.0,1128.0" fill="none" stroke="#1d1d1b" stroke-width="11" stroke-linejoin="miter" stroke-linecap="butt"/>
<polyline points="3127.0,1168.0 3232.0,1141.5 3270.0,1128.0" fill="none" stroke="#43809f" stroke-width="7" stroke-linejoin="miter" stroke-linecap="butt"/>
<polyline points="3240.0,1109.0 3262.0,1116.0 3285.0,1124.0" fill="none" stroke="#1d1d1b" stroke-width="12" stroke-linejoin="miter" stroke-linecap="butt"/>
<polyline points="3240.0,1109.0 3262.0,1116.0 3285.0,1124.0" fill="none" stroke="#43809f" stroke-width="8" stroke-linejoin="miter" stroke-linecap="butt"/>
<polyline points="2435.6,1137.0 2637.6,1199.8" fill="none" stroke="#1d1d1b" stroke-width="4.5" />
<polyline points="2637.0,1218.8 2665.0,1208.7 2700.6,1220.6 3133.2,1079.0" fill="none" stroke="#1d1d1b" stroke-width="4" />
<polyline points="2481.7,1223.6 2550.7,1246.2 2519.8,1255.1 2559.0,1268.2 2362.5,1328.6" fill="none" stroke="#1d1d1b" stroke-width="4" />
<polyline points="2294.4,1180.0 2416.8,1220.0" fill="none" stroke="#1d1d1b" stroke-width="4" />
<polyline points="2106.4,1242.5 2368.9,1327.2" fill="none" stroke="#1d1d1b" stroke-width="4" />
<polyline points="2191.0,1385.0 2480.0,1291.1" fill="none" stroke="#1d1d1b" stroke-width="4" />
<polyline points="2422.2,1221.8 2443.2,1214.9" fill="none" stroke="#1d1d1b" stroke-width="1.6" />
<polyline points="2427.6,1223.5 2448.6,1216.7" fill="none" stroke="#1d1d1b" stroke-width="1.6" />
<polyline points="2433.0,1225.3 2454.0,1218.4" fill="none" stroke="#1d1d1b" stroke-width="1.6" />
<polyline points="2438.4,1227.0 2459.4,1220.2" fill="none" stroke="#1d1d1b" stroke-width="1.6" />
<polyline points="2443.8,1228.8 2464.8,1222.0" fill="none" stroke="#1d1d1b" stroke-width="1.6" />
<polyline points="2449.2,1230.6 2470.2,1223.7" fill="none" stroke="#1d1d1b" stroke-width="1.6" />
<polyline points="2454.6,1232.3 2475.6,1225.5" fill="none" stroke="#1d1d1b" stroke-width="1.6" />
<polyline points="2460.0,1234.1 2481.0,1227.2" fill="none" stroke="#1d1d1b" stroke-width="1.6" />
<polyline points="2465.4,1235.8 2486.4,1229.0" fill="none" stroke="#1d1d1b" stroke-width="1.6" />
<polyline points="2470.8,1237.6 2491.8,1230.8" fill="none" stroke="#1d1d1b" stroke-width="1.6" />
<polyline points="2476.2,1239.4 2497.2,1232.5" fill="none" stroke="#1d1d1b" stroke-width="1.6" />
<polyline points="2481.6,1241.1 2502.6,1234.3" fill="none" stroke="#1d1d1b" stroke-width="1.6" />
<polyline points="2487.0,1242.9 2508.0,1236.0" fill="none" stroke="#1d1d1b" stroke-width="1.6" />
<polyline points="2416.8,1220.0 2492.4,1246.2" fill="none" stroke="#1d1d1b" stroke-width="4.5" />
<polyline points="2418.6,1203.3 2473.3,1220.6" fill="none" stroke="#1d1d1b" stroke-width="4.5" />
<polyline points="2575.2,1199.2 2596.2,1192.3" fill="none" stroke="#1d1d1b" stroke-width="1.6" />
<polyline points="2580.6,1200.9 2601.6,1194.1" fill="none" stroke="#1d1d1b" stroke-width="1.6" />
<polyline points="2586.0,1202.7 2607.0,1195.8" fill="none" stroke="#1d1d1b" stroke-width="1.6" />
<polyline points="2591.4,1204.4 2612.4,1197.6" fill="none" stroke="#1d1d1b" stroke-width="1.6" />
<polyline points="2596.8,1206.2 2617.8,1199.4" fill="none" stroke="#1d1d1b" stroke-width="1.6" />
<polyline points="2602.2,1208.0 2623.2,1201.1" fill="none" stroke="#1d1d1b" stroke-width="1.6" />
<polyline points="2607.6,1209.7 2628.6,1202.9" fill="none" stroke="#1d1d1b" stroke-width="1.6" />
<polyline points="2613.0,1211.5 2634.0,1204.6" fill="none" stroke="#1d1d1b" stroke-width="1.6" />
<polyline points="2618.4,1213.2 2639.4,1206.4" fill="none" stroke="#1d1d1b" stroke-width="1.6" />
<polyline points="2623.8,1215.0 2644.8,1208.2" fill="none" stroke="#1d1d1b" stroke-width="1.6" />
<polyline points="2629.2,1216.8 2650.2,1209.9" fill="none" stroke="#1d1d1b" stroke-width="1.6" />
<polyline points="2634.6,1218.5 2655.6,1211.7" fill="none" stroke="#1d1d1b" stroke-width="1.6" />
<polyline points="2569.8,1197.4 2637.0,1218.8" fill="none" stroke="#1d1d1b" stroke-width="4.5" />
<polyline points="3058.0,1103.5 3090.0,1093.0" fill="none" stroke="#f3dc90" stroke-width="6" />
<polyline points="2330.0,1339.0 2358.0,1330.0" fill="none" stroke="#f3dc90" stroke-width="6" />
<polygon points="2308.7,1470.5 2885.0,1664.0 2885.0,1692.0 2308.7,1498.5" fill="#c6c6c6" stroke="none" stroke-width="0" />
<clipPath id="c6"><path d="M2308.7 1470.5 L2318.9 1430.0 L2399.2 1405.4 L3050.0 1616.5 L2983.0 1640.0 L2885.0 1664.0Z"/></clipPath>
<path d="M2308.7 1470.5 L2318.9 1430.0 L2399.2 1405.4 L3050.0 1616.5 L2983.0 1640.0 L2885.0 1664.0Z" fill="#fff"/>
<path d="M2308.7 1470.5 L2885.0 1664.0 M2399.2 1405.4 L3050.0 1616.5" fill="none" stroke="#1d1d1b" stroke-width="20.8" clip-path="url(#c6)" stroke-linejoin="miter" stroke-miterlimit="10"/>
<path d="M2308.7 1470.5 L2885.0 1664.0 M2399.2 1405.4 L3050.0 1616.5" fill="none" stroke="#43809f" stroke-width="16.0" clip-path="url(#c6)" stroke-linejoin="miter" stroke-miterlimit="10"/>
<path d="M2308.7 1470.5 L2885.0 1664.0 M2399.2 1405.4 L3050.0 1616.5" fill="none" stroke="#1d1d1b" stroke-width="3" stroke-linejoin="miter" stroke-miterlimit="10"/>
<polyline points="2319.8,1429.2 2904.0,1622.9 2983.3,1597.5" fill="none" stroke="#1d1d1b" stroke-width="4" />
<polyline points="2513.5,1491.1 2591.3,1468.9" fill="none" stroke="#1d1d1b" stroke-width="4" />
<polyline points="2602.4,1519.7 2677.0,1497.5" fill="none" stroke="#1d1d1b" stroke-width="4" />
<polyline points="2786.5,1581.6 2862.7,1557.8" fill="none" stroke="#1d1d1b" stroke-width="4" />
<polyline points="2436.0,1467.5 2462.0,1476.0" fill="none" stroke="#d9d9d9" stroke-width="5" />
<polyline points="2545.0,1503.5 2571.0,1512.0" fill="none" stroke="#d9d9d9" stroke-width="5" />
<polyline points="2735.0,1566.0 2761.0,1574.5" fill="none" stroke="#d9d9d9" stroke-width="5" />
<polyline points="2848.0,1603.0 2874.0,1611.5" fill="none" stroke="#d9d9d9" stroke-width="5" />
<polyline points="2378.0,1493.5 2428.0,1510.5" fill="none" stroke="#cfe3ea" stroke-width="9" />
<polygon points="2730.8,1306.3 2826.0,1337.0 2826.0,1359.0 2730.8,1328.3" fill="#c6c6c6" stroke="none" stroke-width="0" />
<polygon points="2826.0,1337.0 2860.0,1326.0 2860.0,1348.0 2826.0,1359.0" fill="#575756" stroke="none" stroke-width="0" />
<polygon points="2730.8,1306.3 2765.0,1295.0 2860.0,1326.0 2826.0,1337.0" fill="#f3d27a" stroke="#1d1d1b" stroke-width="2" />
<polygon points="2765.0,1284.0 2838.0,1260.0 2872.0,1271.0 2800.0,1295.0" fill="#fff" stroke="#1d1d1b" stroke-width="2" />
<polygon points="2800.0,1295.0 2872.0,1271.0 2886.0,1276.0 2814.0,1300.0" fill="#f0dc8c" stroke="none" stroke-width="0" />
<polyline points="2812.0,1292.0 2826.0,1296.6" fill="none" stroke="#1d1d1b" stroke-width="1.4" />
<polyline points="2819.0,1289.7 2833.0,1294.3" fill="none" stroke="#1d1d1b" stroke-width="1.4" />
<polyline points="2826.0,1287.4 2840.0,1292.0" fill="none" stroke="#1d1d1b" stroke-width="1.4" />
<polyline points="2833.0,1285.1 2847.0,1289.7" fill="none" stroke="#1d1d1b" stroke-width="1.4" />
<polyline points="2840.0,1282.8 2854.0,1287.4" fill="none" stroke="#1d1d1b" stroke-width="1.4" />
<polyline points="2847.0,1280.5 2861.0,1285.1" fill="none" stroke="#1d1d1b" stroke-width="1.4" />
<polyline points="2854.0,1278.2 2868.0,1282.8" fill="none" stroke="#1d1d1b" stroke-width="1.4" />
<polyline points="2861.0,1275.9 2875.0,1280.5" fill="none" stroke="#1d1d1b" stroke-width="1.4" />
<polyline points="2868.0,1273.6 2882.0,1278.2" fill="none" stroke="#1d1d1b" stroke-width="1.4" />
<polygon points="1860.3,1622.6 2257.0,1496.5 2257.0,1524.5 1860.3,1657.6" fill="#575756" stroke="#3c3c3b" stroke-width="1" />
<polygon points="2257.0,1496.5 2277.0,1486.0 2296.0,1476.5 2309.5,1473.0 2309.5,1500.0 2296.0,1504.0 2277.0,1513.0 2257.0,1524.5" fill="#575756" stroke="none" stroke-width="0" />
<polygon points="1240.2,1429.2 1860.3,1622.6 1860.3,1657.6 1240.2,1464.2" fill="#c6c6c6" stroke="#9d9d9c" stroke-width="1" />
<clipPath id="c7"><path d="M1240.2 1429.2 L1647.8 1295.5 L1816.1 1349.4 L1931.4 1313.3 L2188.3 1389.7 L2319.4 1429.3 L2366.8 1448.3 L2311.0 1472.5 L2296.0 1476.5 L2277.0 1486.0 L2257.0 1496.5 L1860.3 1622.6Z"/></clipPath>
<path d="M1240.2 1429.2 L1647.8 1295.5 L1816.1 1349.4 L1931.4 1313.3 L2188.3 1389.7 L2319.4 1429.3 L2366.8 1448.3 L2311.0 1472.5 L2296.0 1476.5 L2277.0 1486.0 L2257.0 1496.5 L1860.3 1622.6Z" fill="#edeb98"/>
<path d="M2311.0 1472.5 L2296.0 1476.5 L2277.0 1486.0 L2257.0 1496.5 L1860.3 1622.6 L1240.2 1429.2 L1647.8 1295.5 L1816.1 1349.4 L1931.4 1313.3" fill="none" stroke="#1d1d1b" stroke-width="21.8" clip-path="url(#c7)" stroke-linejoin="miter" stroke-miterlimit="10"/>
<path d="M2311.0 1472.5 L2296.0 1476.5 L2277.0 1486.0 L2257.0 1496.5 L1860.3 1622.6 L1240.2 1429.2 L1647.8 1295.5 L1816.1 1349.4 L1931.4 1313.3" fill="none" stroke="#43809f" stroke-width="17.0" clip-path="url(#c7)" stroke-linejoin="miter" stroke-miterlimit="10"/>
<path d="M2311.0 1472.5 L2296.0 1476.5 L2277.0 1486.0 L2257.0 1496.5 L1860.3 1622.6 L1240.2 1429.2 L1647.8 1295.5 L1816.1 1349.4 L1931.4 1313.3" fill="none" stroke="#1d1d1b" stroke-width="3" stroke-linejoin="miter" stroke-miterlimit="10"/>
<polyline points="1823.0,1356.0 1880.0,1374.0" fill="none" stroke="#1d1d1b" stroke-width="13.0" stroke-linejoin="miter" stroke-linecap="butt"/>
<polyline points="1823.0,1356.0 1880.0,1374.0" fill="none" stroke="#43809f" stroke-width="8" stroke-linejoin="miter" stroke-linecap="butt"/>
<polyline points="1949.4,1400.8 1996.7,1415.3" fill="none" stroke="#1d1d1b" stroke-width="13.0" stroke-linejoin="miter" stroke-linecap="butt"/>
<polyline points="1949.4,1400.8 1996.7,1415.3" fill="none" stroke="#43809f" stroke-width="8" stroke-linejoin="miter" stroke-linecap="butt"/>
<polyline points="2021.7,1424.4 2256.0,1496.5" fill="none" stroke="#1d1d1b" stroke-width="13.0" stroke-linejoin="miter" stroke-linecap="butt"/>
<polyline points="2021.7,1424.4 2256.0,1496.5" fill="none" stroke="#43809f" stroke-width="8" stroke-linejoin="miter" stroke-linecap="butt"/>
<polyline points="1419.2,1377.6 1641.0,1449.8" fill="none" stroke="#1d1d1b" stroke-width="4" />
<polyline points="1496.6,1497.8 1641.0,1449.8 1971.7,1342.5" fill="none" stroke="#1d1d1b" stroke-width="4" />
<polyline points="1616.8,1460.0 1687.5,1483.3" fill="none" stroke="#1d1d1b" stroke-width="4" />
<polyline points="1571.4,1523.6 1950.6,1403.4" fill="none" stroke="#1d1d1b" stroke-width="4" />
<polyline points="1721.0,1477.1 2007.3,1570.0" fill="none" stroke="#1d1d1b" stroke-width="4" />
<polyline points="2007.8,1370.3 2123.0,1407.8 2168.9,1392.5" fill="none" stroke="#1d1d1b" stroke-width="4" />
<polyline points="1815.0,1393.5 1842.0,1384.5" fill="none" stroke="#a8a89a" stroke-width="5" />
<polyline points="1892.0,1368.0 1918.0,1359.5" fill="none" stroke="#a8a89a" stroke-width="5" />
<polyline points="1760.0,1461.0 1790.0,1451.5" fill="none" stroke="#a8a89a" stroke-width="5" />
<polyline points="1667.0,1441.0 1697.0,1431.5" fill="none" stroke="#a8a89a" stroke-width="5" />
<polyline points="1997.0,1415.5 2022.0,1424.0" fill="none" stroke="#c9c88f" stroke-width="5" />
<text x="1718.4" y="1560.7" font-size="37" font-weight="bold" fill="#1d1d1b" text-anchor="start" textLength="170.0" lengthAdjust="spacingAndGlyphs"  style="">Cafeteria</text>
<polygon points="4052.2,1398.2 3858.5,1462.3 3858.5,1486.8 4052.2,1422.7" fill="#575756" stroke="#3c3c3b" stroke-width="1" />
<clipPath id="c8"><path d="M3700.0 1400.0 L3901.2 1334.0 L4052.2 1398.2 L3858.5 1462.3Z"/></clipPath>
<path d="M3700.0 1400.0 L3901.2 1334.0 L4052.2 1398.2 L3858.5 1462.3Z" fill="#e0802e"/>
<path d="M3901.2 1334.0 L4052.2 1398.2 L3858.5 1462.3" fill="none" stroke="#1d1d1b" stroke-width="21.8" clip-path="url(#c8)" stroke-linejoin="miter" stroke-miterlimit="10"/>
<path d="M3901.2 1334.0 L4052.2 1398.2 L3858.5 1462.3" fill="none" stroke="#43809f" stroke-width="17.0" clip-path="url(#c8)" stroke-linejoin="miter" stroke-miterlimit="10"/>
<path d="M3901.2 1334.0 L4052.2 1398.2 L3858.5 1462.3" fill="none" stroke="#1d1d1b" stroke-width="3" stroke-linejoin="miter" stroke-miterlimit="10"/>
<polyline points="3821.0,1361.0 3956.0,1406.0" fill="none" stroke="#1d1d1b" stroke-width="4" />
<polyline points="3905.0,1389.0 3930.0,1397.5" fill="none" stroke="#d9a070" stroke-width="5" />
<polygon points="2784.6,1697.4 2882.2,1665.3 2882.2,1689.8 2784.6,1721.9" fill="#575756" stroke="#3c3c3b" stroke-width="1" />
<polygon points="2882.2,1665.3 3049.9,1621.6 3049.9,1646.1 2882.2,1689.8" fill="#575756" stroke="#3c3c3b" stroke-width="1" />
<polygon points="3049.9,1621.6 3691.8,1412.0 3691.8,1436.5 3049.9,1646.1" fill="#575756" stroke="#3c3c3b" stroke-width="1" />
<polygon points="3691.8,1412.0 3832.9,1460.8 3832.9,1485.3 3691.8,1436.5" fill="#c6c6c6" stroke="#9d9d9c" stroke-width="1" />
<polygon points="3832.9,1460.8 3989.5,1508.0 3989.5,1532.5 3832.9,1485.3" fill="#c6c6c6" stroke="#9d9d9c" stroke-width="1" />
<polygon points="3989.5,1508.0 3093.6,1798.0 3093.6,1822.5 3989.5,1532.5" fill="#575756" stroke="#3c3c3b" stroke-width="1" />
<polygon points="3093.6,1798.0 2784.6,1697.4 2784.6,1721.9 3093.6,1822.5" fill="#c6c6c6" stroke="#9d9d9c" stroke-width="1" />
<clipPath id="c9"><path d="M2784.6 1697.4 L2882.2 1665.3 L3049.9 1621.6 L3691.8 1412.0 L3832.9 1460.8 L3989.5 1508.0 L3093.6 1798.0Z"/></clipPath>
<path d="M2784.6 1697.4 L2882.2 1665.3 L3049.9 1621.6 L3691.8 1412.0 L3832.9 1460.8 L3989.5 1508.0 L3093.6 1798.0Z" fill="#8dd0ea"/>
<path d="M2882.2 1665.3 L2784.6 1697.4 L2912.9 1738.5 M2971.0 1757.0 L3093.6 1798.0 L3989.5 1508.0 L3832.9 1460.8" fill="none" stroke="#1d1d1b" stroke-width="21.8" clip-path="url(#c9)" stroke-linejoin="miter" stroke-miterlimit="10"/>
<path d="M2882.2 1665.3 L2784.6 1697.4 L2912.9 1738.5 M2971.0 1757.0 L3093.6 1798.0 L3989.5 1508.0 L3832.9 1460.8" fill="none" stroke="#43809f" stroke-width="17.0" clip-path="url(#c9)" stroke-linejoin="miter" stroke-miterlimit="10"/>
<path d="M2882.2 1665.3 L2784.6 1697.4 L2912.9 1738.5 M2971.0 1757.0 L3093.6 1798.0 L3989.5 1508.0 L3832.9 1460.8" fill="none" stroke="#1d1d1b" stroke-width="3" stroke-linejoin="miter" stroke-miterlimit="10"/>
<g clip-path="url(#c9)">
<polyline points="3143.1,1649.0 3764.5,1445.4" fill="none" stroke="#1d1d1b" stroke-width="4" />
<polyline points="3004.0,1742.2 3841.4,1471.0" fill="none" stroke="#1d1d1b" stroke-width="4" />
<polyline points="3485.4,1489.5 3556.6,1512.3" fill="none" stroke="#1d1d1b" stroke-width="4" />
<polyline points="3569.4,1461.6 3640.6,1485.3" fill="none" stroke="#1d1d1b" stroke-width="4" />
<polyline points="3652.0,1434.8 3721.7,1458.2" fill="none" stroke="#1d1d1b" stroke-width="4" />
<polyline points="3168.7,1592.1 3238.5,1614.9" fill="none" stroke="#1d1d1b" stroke-width="4" />
<polyline points="3264.1,1562.2 3333.9,1585.0" fill="none" stroke="#1d1d1b" stroke-width="4" />
<polyline points="3070.5,1624.8 3235.7,1679.0" fill="none" stroke="#1d1d1b" stroke-width="4" />
<polyline points="3101.8,1713.1 3211.5,1750.1" fill="none" stroke="#1d1d1b" stroke-width="4" />
<polyline points="3315.4,1643.3 3432.2,1680.4" fill="none" stroke="#1d1d1b" stroke-width="4" />
<polyline points="3414.2,1613.4 3522.4,1647.6" fill="none" stroke="#1d1d1b" stroke-width="4" />
<polyline points="3654.8,1533.7 3764.5,1569.3" fill="none" stroke="#1d1d1b" stroke-width="4" />
<polyline points="3738.8,1506.0 3848.5,1542.2" fill="none" stroke="#1d1d1b" stroke-width="4" />
<polyline points="2898.3,1671.1 2965.3,1691.5 2882.2,1717.8" fill="none" stroke="#1d1d1b" stroke-width="4" />
<polyline points="2944.9,1701.7 2984.3,1713.4" fill="none" stroke="#1d1d1b" stroke-width="4" />
<polyline points="3029.5,1726.5 3047.0,1732.4" fill="none" stroke="#1d1d1b" stroke-width="4" />
<polyline points="3200.0,1630.5 3235.0,1619.0" fill="none" stroke="#a7d3e6" stroke-width="5" />
<polyline points="3290.0,1649.5 3325.0,1638.0" fill="none" stroke="#a7d3e6" stroke-width="5" />
<polyline points="3060.0,1724.0 3095.0,1712.5" fill="none" stroke="#a7d3e6" stroke-width="5" />
<polyline points="3520.0,1525.5 3555.0,1514.0" fill="none" stroke="#a7d3e6" stroke-width="5" />
<polyline points="3600.0,1549.0 3635.0,1537.5" fill="none" stroke="#a7d3e6" stroke-width="5" />
<polyline points="3720.0,1460.0 3750.0,1450.0" fill="none" stroke="#a7d3e6" stroke-width="5" />
<polyline points="3780.0,1490.5 3812.0,1480.0" fill="none" stroke="#a7d3e6" stroke-width="5" />
<polyline points="3150.0,1651.0 3200.0,1667.5" fill="none" stroke="#a7d3e6" stroke-width="5" />
</g>
<polyline points="3761.7,1395.3 3838.6,1422.4" fill="none" stroke="#1d1d1b" stroke-width="13.0" stroke-linejoin="miter" stroke-linecap="butt"/>
<polyline points="3761.7,1395.3 3838.6,1422.4" fill="none" stroke="#43809f" stroke-width="8" stroke-linejoin="miter" stroke-linecap="butt"/>
<polygon points="3011.3,1649.3 3011.9,1646.7 3013.5,1644.1 3016.3,1641.6 3020.1,1639.3 3024.9,1637.2 3030.5,1635.3 3036.8,1633.7 3043.7,1632.5 3051.2,1631.5 3058.9,1631.0 3066.8,1630.8 3074.7,1631.0 3082.4,1631.5 3089.9,1632.5 3096.8,1633.7 3103.1,1635.3 3108.7,1637.2 3113.5,1639.3 3117.3,1641.6 3120.1,1644.1 3121.7,1646.7 3122.3,1649.3 3122.3,1652.3 3011.3,1652.3" fill="#fff" stroke="#1d1d1b" stroke-width="1.2"/>
<polyline points="3066.8,1650.3 3011.9,1646.7" fill="none" stroke="#1d1d1b" stroke-width="1.1" />
<polyline points="3066.8,1650.3 3013.5,1644.1" fill="none" stroke="#1d1d1b" stroke-width="1.1" />
<polyline points="3066.8,1650.3 3016.3,1641.6" fill="none" stroke="#1d1d1b" stroke-width="1.1" />
<polyline points="3066.8,1650.3 3020.1,1639.3" fill="none" stroke="#1d1d1b" stroke-width="1.1" />
<polyline points="3066.8,1650.3 3024.9,1637.2" fill="none" stroke="#1d1d1b" stroke-width="1.1" />
<polyline points="3066.8,1650.3 3030.5,1635.3" fill="none" stroke="#1d1d1b" stroke-width="1.1" />
<polyline points="3066.8,1650.3 3036.8,1633.7" fill="none" stroke="#1d1d1b" stroke-width="1.1" />
<polyline points="3066.8,1650.3 3043.7,1632.5" fill="none" stroke="#1d1d1b" stroke-width="1.1" />
<polyline points="3066.8,1650.3 3051.2,1631.5" fill="none" stroke="#1d1d1b" stroke-width="1.1" />
<polyline points="3066.8,1650.3 3058.9,1631.0" fill="none" stroke="#1d1d1b" stroke-width="1.1" />
<polyline points="3066.8,1650.3 3066.8,1630.8" fill="none" stroke="#1d1d1b" stroke-width="1.1" />
<polyline points="3066.8,1650.3 3074.7,1631.0" fill="none" stroke="#1d1d1b" stroke-width="1.1" />
<polyline points="3066.8,1650.3 3082.4,1631.5" fill="none" stroke="#1d1d1b" stroke-width="1.1" />
<polyline points="3066.8,1650.3 3089.9,1632.5" fill="none" stroke="#1d1d1b" stroke-width="1.1" />
<polyline points="3066.8,1650.3 3096.8,1633.7" fill="none" stroke="#1d1d1b" stroke-width="1.1" />
<polyline points="3066.8,1650.3 3103.1,1635.3" fill="none" stroke="#1d1d1b" stroke-width="1.1" />
<polyline points="3066.8,1650.3 3108.7,1637.2" fill="none" stroke="#1d1d1b" stroke-width="1.1" />
<polyline points="3066.8,1650.3 3113.5,1639.3" fill="none" stroke="#1d1d1b" stroke-width="1.1" />
<polyline points="3066.8,1650.3 3117.3,1641.6" fill="none" stroke="#1d1d1b" stroke-width="1.1" />
<polyline points="3066.8,1650.3 3120.1,1644.1" fill="none" stroke="#1d1d1b" stroke-width="1.1" />
<polyline points="3066.8,1650.3 3121.7,1646.7" fill="none" stroke="#1d1d1b" stroke-width="1.1" />
<polygon points="2801.4,1497.0 3691.8,1203.0 3691.8,1227.5 2801.4,1521.5" fill="#575756" stroke="#3c3c3b" stroke-width="1" />
<polygon points="3691.8,1203.0 3986.6,1299.0 3986.6,1323.5 3691.8,1227.5" fill="#c6c6c6" stroke="#9d9d9c" stroke-width="1" />
<polygon points="3986.6,1299.0 3094.7,1586.7 3094.7,1611.2 3986.6,1323.5" fill="#575756" stroke="#3c3c3b" stroke-width="1" />
<polygon points="3094.7,1586.7 2801.4,1497.0 2801.4,1521.5 3094.7,1611.2" fill="#c6c6c6" stroke="#9d9d9c" stroke-width="1" />
<clipPath id="c10"><path d="M2801.4 1497.0 L3691.8 1203.0 L3986.6 1299.0 L3094.7 1586.7Z"/></clipPath>
<path d="M2801.4 1497.0 L3691.8 1203.0 L3986.6 1299.0 L3094.7 1586.7Z" fill="#9cd4ee"/>
<path d="M2801.4 1497.0 L3691.8 1203.0 L3986.6 1299.0 L3094.7 1586.7Z" fill="none" stroke="#1d1d1b" stroke-width="21.8" clip-path="url(#c10)" stroke-linejoin="miter" stroke-miterlimit="10"/>
<path d="M2801.4 1497.0 L3691.8 1203.0 L3986.6 1299.0 L3094.7 1586.7Z" fill="none" stroke="#43809f" stroke-width="17.0" clip-path="url(#c10)" stroke-linejoin="miter" stroke-miterlimit="10"/>
<path d="M2801.4 1497.0 L3691.8 1203.0 L3986.6 1299.0 L3094.7 1586.7Z" fill="none" stroke="#1d1d1b" stroke-width="3" stroke-linejoin="miter" stroke-miterlimit="10"/>
<g clip-path="url(#c10)">
<polyline points="3143.1,1440.0 3764.5,1236.4" fill="none" stroke="#1d1d1b" stroke-width="4" />
<polyline points="3019.2,1528.3 3841.4,1262.0" fill="none" stroke="#1d1d1b" stroke-width="4" />
<polyline points="3485.4,1280.5 3556.6,1303.3" fill="none" stroke="#1d1d1b" stroke-width="4" />
<polyline points="3569.4,1252.6 3640.6,1276.3" fill="none" stroke="#1d1d1b" stroke-width="4" />
<polyline points="3652.0,1225.8 3721.7,1249.2" fill="none" stroke="#1d1d1b" stroke-width="4" />
<polyline points="3168.7,1383.1 3238.5,1405.9" fill="none" stroke="#1d1d1b" stroke-width="4" />
<polyline points="3264.1,1353.2 3333.9,1376.0" fill="none" stroke="#1d1d1b" stroke-width="4" />
<polyline points="3070.5,1415.8 3235.7,1470.0" fill="none" stroke="#1d1d1b" stroke-width="4" />
<polyline points="3101.8,1504.1 3211.5,1541.1" fill="none" stroke="#1d1d1b" stroke-width="4" />
<polyline points="3315.4,1434.3 3432.2,1471.4" fill="none" stroke="#1d1d1b" stroke-width="4" />
<polyline points="3414.2,1404.4 3522.4,1438.6" fill="none" stroke="#1d1d1b" stroke-width="4" />
<polyline points="3654.8,1324.7 3764.5,1360.3" fill="none" stroke="#1d1d1b" stroke-width="4" />
<polyline points="3738.8,1297.0 3848.5,1333.2" fill="none" stroke="#1d1d1b" stroke-width="4" />
<polyline points="2921.0,1465.7 3016.4,1497.0" fill="none" stroke="#1d1d1b" stroke-width="4" />
<polyline points="2969.4,1447.7 3118.9,1495.6" fill="none" stroke="#1d1d1b" stroke-width="4" />
<polyline points="3016.4,1497.0 3040.0,1489.5" fill="none" stroke="#1d1d1b" stroke-width="4" />
<polyline points="2969.4,1512.7 3019.2,1528.3" fill="none" stroke="#1d1d1b" stroke-width="4" />
<polyline points="2969.4,1512.7 2990.0,1506.0" fill="none" stroke="#1d1d1b" stroke-width="4" />
<polyline points="2979.4,1542.6 3019.2,1528.3" fill="none" stroke="#1d1d1b" stroke-width="4" />
<polyline points="3200.0,1421.5 3235.0,1410.0" fill="none" stroke="#a7d3e6" stroke-width="5" />
<polyline points="3290.0,1440.5 3325.0,1429.0" fill="none" stroke="#a7d3e6" stroke-width="5" />
<polyline points="3060.0,1515.0 3095.0,1503.5" fill="none" stroke="#a7d3e6" stroke-width="5" />
<polyline points="3520.0,1316.5 3555.0,1305.0" fill="none" stroke="#a7d3e6" stroke-width="5" />
<polyline points="3600.0,1340.0 3635.0,1328.5" fill="none" stroke="#a7d3e6" stroke-width="5" />
<polyline points="3720.0,1251.0 3750.0,1241.0" fill="none" stroke="#a7d3e6" stroke-width="5" />
<polyline points="3780.0,1281.5 3812.0,1271.0" fill="none" stroke="#a7d3e6" stroke-width="5" />
<polyline points="3150.0,1442.0 3200.0,1458.5" fill="none" stroke="#a7d3e6" stroke-width="5" />
</g>
<polygon points="3011.3,1443.1 3011.9,1440.5 3013.5,1437.9 3016.3,1435.4 3020.1,1433.1 3024.9,1431.0 3030.5,1429.1 3036.8,1427.5 3043.7,1426.3 3051.2,1425.3 3058.9,1424.8 3066.8,1424.6 3074.7,1424.8 3082.4,1425.3 3089.9,1426.3 3096.8,1427.5 3103.1,1429.1 3108.7,1431.0 3113.5,1433.1 3117.3,1435.4 3120.1,1437.9 3121.7,1440.5 3122.3,1443.1 3122.3,1446.1 3011.3,1446.1" fill="#fff" stroke="#1d1d1b" stroke-width="1.2"/>
<polyline points="3066.8,1444.1 3011.9,1440.5" fill="none" stroke="#1d1d1b" stroke-width="1.1" />
<polyline points="3066.8,1444.1 3013.5,1437.9" fill="none" stroke="#1d1d1b" stroke-width="1.1" />
<polyline points="3066.8,1444.1 3016.3,1435.4" fill="none" stroke="#1d1d1b" stroke-width="1.1" />
<polyline points="3066.8,1444.1 3020.1,1433.1" fill="none" stroke="#1d1d1b" stroke-width="1.1" />
<polyline points="3066.8,1444.1 3024.9,1431.0" fill="none" stroke="#1d1d1b" stroke-width="1.1" />
<polyline points="3066.8,1444.1 3030.5,1429.1" fill="none" stroke="#1d1d1b" stroke-width="1.1" />
<polyline points="3066.8,1444.1 3036.8,1427.5" fill="none" stroke="#1d1d1b" stroke-width="1.1" />
<polyline points="3066.8,1444.1 3043.7,1426.3" fill="none" stroke="#1d1d1b" stroke-width="1.1" />
<polyline points="3066.8,1444.1 3051.2,1425.3" fill="none" stroke="#1d1d1b" stroke-width="1.1" />
<polyline points="3066.8,1444.1 3058.9,1424.8" fill="none" stroke="#1d1d1b" stroke-width="1.1" />
<polyline points="3066.8,1444.1 3066.8,1424.6" fill="none" stroke="#1d1d1b" stroke-width="1.1" />
<polyline points="3066.8,1444.1 3074.7,1424.8" fill="none" stroke="#1d1d1b" stroke-width="1.1" />
<polyline points="3066.8,1444.1 3082.4,1425.3" fill="none" stroke="#1d1d1b" stroke-width="1.1" />
<polyline points="3066.8,1444.1 3089.9,1426.3" fill="none" stroke="#1d1d1b" stroke-width="1.1" />
<polyline points="3066.8,1444.1 3096.8,1427.5" fill="none" stroke="#1d1d1b" stroke-width="1.1" />
<polyline points="3066.8,1444.1 3103.1,1429.1" fill="none" stroke="#1d1d1b" stroke-width="1.1" />
<polyline points="3066.8,1444.1 3108.7,1431.0" fill="none" stroke="#1d1d1b" stroke-width="1.1" />
<polyline points="3066.8,1444.1 3113.5,1433.1" fill="none" stroke="#1d1d1b" stroke-width="1.1" />
<polyline points="3066.8,1444.1 3117.3,1435.4" fill="none" stroke="#1d1d1b" stroke-width="1.1" />
<polyline points="3066.8,1444.1 3120.1,1437.9" fill="none" stroke="#1d1d1b" stroke-width="1.1" />
<polyline points="3066.8,1444.1 3121.7,1440.5" fill="none" stroke="#1d1d1b" stroke-width="1.1" />
<polygon points="2801.4,1309.0 3691.8,1015.0 3691.8,1039.5 2801.4,1333.5" fill="#575756" stroke="#3c3c3b" stroke-width="1" />
<polygon points="3691.8,1015.0 3986.6,1111.0 3986.6,1135.5 3691.8,1039.5" fill="#c6c6c6" stroke="#9d9d9c" stroke-width="1" />
<polygon points="3986.6,1111.0 3094.7,1398.7 3094.7,1423.2 3986.6,1135.5" fill="#575756" stroke="#3c3c3b" stroke-width="1" />
<polygon points="3094.7,1398.7 2801.4,1309.0 2801.4,1333.5 3094.7,1423.2" fill="#c6c6c6" stroke="#9d9d9c" stroke-width="1" />
<clipPath id="c11"><path d="M2801.4 1309.0 L3691.8 1015.0 L3986.6 1111.0 L3094.7 1398.7Z"/></clipPath>
<path d="M2801.4 1309.0 L3691.8 1015.0 L3986.6 1111.0 L3094.7 1398.7Z" fill="#8dd0ea"/>
<path d="M2801.4 1309.0 L3691.8 1015.0 L3986.6 1111.0 L3094.7 1398.7Z" fill="none" stroke="#1d1d1b" stroke-width="21.8" clip-path="url(#c11)" stroke-linejoin="miter" stroke-miterlimit="10"/>
<path d="M2801.4 1309.0 L3691.8 1015.0 L3986.6 1111.0 L3094.7 1398.7Z" fill="none" stroke="#43809f" stroke-width="17.0" clip-path="url(#c11)" stroke-linejoin="miter" stroke-miterlimit="10"/>
<path d="M2801.4 1309.0 L3691.8 1015.0 L3986.6 1111.0 L3094.7 1398.7Z" fill="none" stroke="#1d1d1b" stroke-width="3" stroke-linejoin="miter" stroke-miterlimit="10"/>
<g clip-path="url(#c11)">
<polyline points="3143.1,1252.0 3764.5,1048.4" fill="none" stroke="#1d1d1b" stroke-width="4" />
<polyline points="3019.2,1340.3 3841.4,1074.0" fill="none" stroke="#1d1d1b" stroke-width="4" />
<polyline points="3485.4,1092.5 3556.6,1115.3" fill="none" stroke="#1d1d1b" stroke-width="4" />
<polyline points="3569.4,1064.6 3640.6,1088.3" fill="none" stroke="#1d1d1b" stroke-width="4" />
<polyline points="3652.0,1037.8 3721.7,1061.2" fill="none" stroke="#1d1d1b" stroke-width="4" />
<polyline points="3168.7,1195.1 3238.5,1217.9" fill="none" stroke="#1d1d1b" stroke-width="4" />
<polyline points="3264.1,1165.2 3333.9,1188.0" fill="none" stroke="#1d1d1b" stroke-width="4" />
<polyline points="3070.5,1227.8 3235.7,1282.0" fill="none" stroke="#1d1d1b" stroke-width="4" />
<polyline points="3101.8,1316.1 3211.5,1353.1" fill="none" stroke="#1d1d1b" stroke-width="4" />
<polyline points="3315.4,1246.3 3432.2,1283.4" fill="none" stroke="#1d1d1b" stroke-width="4" />
<polyline points="3414.2,1216.4 3522.4,1250.6" fill="none" stroke="#1d1d1b" stroke-width="4" />
<polyline points="3654.8,1136.7 3764.5,1172.3" fill="none" stroke="#1d1d1b" stroke-width="4" />
<polyline points="3738.8,1109.0 3848.5,1145.2" fill="none" stroke="#1d1d1b" stroke-width="4" />
<polyline points="2921.0,1277.7 3016.4,1309.0" fill="none" stroke="#1d1d1b" stroke-width="4" />
<polyline points="2969.4,1259.7 3118.9,1307.6" fill="none" stroke="#1d1d1b" stroke-width="4" />
<polyline points="3016.4,1309.0 3040.0,1301.5" fill="none" stroke="#1d1d1b" stroke-width="4" />
<polyline points="2969.4,1324.7 3019.2,1340.3" fill="none" stroke="#1d1d1b" stroke-width="4" />
<polyline points="2969.4,1324.7 2990.0,1318.0" fill="none" stroke="#1d1d1b" stroke-width="4" />
<polyline points="2979.4,1354.6 3019.2,1340.3" fill="none" stroke="#1d1d1b" stroke-width="4" />
<polyline points="3200.0,1233.5 3235.0,1222.0" fill="none" stroke="#a7d3e6" stroke-width="5" />
<polyline points="3290.0,1252.5 3325.0,1241.0" fill="none" stroke="#a7d3e6" stroke-width="5" />
<polyline points="3060.0,1327.0 3095.0,1315.5" fill="none" stroke="#a7d3e6" stroke-width="5" />
<polyline points="3520.0,1128.5 3555.0,1117.0" fill="none" stroke="#a7d3e6" stroke-width="5" />
<polyline points="3600.0,1152.0 3635.0,1140.5" fill="none" stroke="#a7d3e6" stroke-width="5" />
<polyline points="3720.0,1063.0 3750.0,1053.0" fill="none" stroke="#a7d3e6" stroke-width="5" />
<polyline points="3780.0,1093.5 3812.0,1083.0" fill="none" stroke="#a7d3e6" stroke-width="5" />
<polyline points="3150.0,1254.0 3200.0,1270.5" fill="none" stroke="#a7d3e6" stroke-width="5" />
</g>
<polygon points="3010.7,1252.9 3011.3,1250.3 3012.9,1247.7 3015.7,1245.2 3019.5,1242.9 3024.3,1240.8 3029.9,1238.9 3036.2,1237.3 3043.1,1236.1 3050.6,1235.1 3058.3,1234.6 3066.2,1234.4 3074.1,1234.6 3081.8,1235.1 3089.3,1236.1 3096.2,1237.3 3102.5,1238.9 3108.1,1240.8 3112.9,1242.9 3116.7,1245.2 3119.5,1247.7 3121.1,1250.3 3121.7,1252.9 3121.7,1255.9 3010.7,1255.9" fill="#fff" stroke="#1d1d1b" stroke-width="1.2"/>
<polyline points="3066.2,1253.9 3011.3,1250.3" fill="none" stroke="#1d1d1b" stroke-width="1.1" />
<polyline points="3066.2,1253.9 3012.9,1247.7" fill="none" stroke="#1d1d1b" stroke-width="1.1" />
<polyline points="3066.2,1253.9 3015.7,1245.2" fill="none" stroke="#1d1d1b" stroke-width="1.1" />
<polyline points="3066.2,1253.9 3019.5,1242.9" fill="none" stroke="#1d1d1b" stroke-width="1.1" />
<polyline points="3066.2,1253.9 3024.3,1240.8" fill="none" stroke="#1d1d1b" stroke-width="1.1" />
<polyline points="3066.2,1253.9 3029.9,1238.9" fill="none" stroke="#1d1d1b" stroke-width="1.1" />
<polyline points="3066.2,1253.9 3036.2,1237.3" fill="none" stroke="#1d1d1b" stroke-width="1.1" />
<polyline points="3066.2,1253.9 3043.1,1236.1" fill="none" stroke="#1d1d1b" stroke-width="1.1" />
<polyline points="3066.2,1253.9 3050.6,1235.1" fill="none" stroke="#1d1d1b" stroke-width="1.1" />
<polyline points="3066.2,1253.9 3058.3,1234.6" fill="none" stroke="#1d1d1b" stroke-width="1.1" />
<polyline points="3066.2,1253.9 3066.2,1234.4" fill="none" stroke="#1d1d1b" stroke-width="1.1" />
<polyline points="3066.2,1253.9 3074.1,1234.6" fill="none" stroke="#1d1d1b" stroke-width="1.1" />
<polyline points="3066.2,1253.9 3081.8,1235.1" fill="none" stroke="#1d1d1b" stroke-width="1.1" />
<polyline points="3066.2,1253.9 3089.3,1236.1" fill="none" stroke="#1d1d1b" stroke-width="1.1" />
<polyline points="3066.2,1253.9 3096.2,1237.3" fill="none" stroke="#1d1d1b" stroke-width="1.1" />
<polyline points="3066.2,1253.9 3102.5,1238.9" fill="none" stroke="#1d1d1b" stroke-width="1.1" />
<polyline points="3066.2,1253.9 3108.1,1240.8" fill="none" stroke="#1d1d1b" stroke-width="1.1" />
<polyline points="3066.2,1253.9 3112.9,1242.9" fill="none" stroke="#1d1d1b" stroke-width="1.1" />
<polyline points="3066.2,1253.9 3116.7,1245.2" fill="none" stroke="#1d1d1b" stroke-width="1.1" />
<polyline points="3066.2,1253.9 3119.5,1247.7" fill="none" stroke="#1d1d1b" stroke-width="1.1" />
<polyline points="3066.2,1253.9 3121.1,1250.3" fill="none" stroke="#1d1d1b" stroke-width="1.1" />
<polygon points="589.8,2342.0 626.1,2332.5 626.1,2360.5 589.8,2370.0" fill="#575756" stroke="#555" stroke-width="0.8" />
<polygon points="860.0,2432.5 934.6,2407.0 934.6,2435.0 860.0,2460.5" fill="#575756" stroke="#555" stroke-width="0.8" />
<polygon points="626.1,2332.5 1340.0,2099.8 1340.0,2127.8 626.1,2360.5" fill="#575756" stroke="#3c3c3b" stroke-width="1" />
<polygon points="1340.0,2099.8 1991.0,2312.0 1991.0,2340.0 1340.0,2127.8" fill="#c6c6c6" stroke="#9d9d9c" stroke-width="1" />
<polygon points="1991.0,2312.0 1334.6,2542.0 1334.6,2570.0 1991.0,2340.0" fill="#575756" stroke="#3c3c3b" stroke-width="1" />
<polygon points="1334.6,2542.0 934.6,2410.5 934.6,2438.5 1334.6,2570.0" fill="#c6c6c6" stroke="#9d9d9c" stroke-width="1" />
<polygon points="934.6,2410.5 893.9,2422.4 893.9,2450.4 934.6,2438.5" fill="#575756" stroke="#3c3c3b" stroke-width="1" />
<polygon points="893.9,2422.4 626.1,2332.5 626.1,2360.5 893.9,2450.4" fill="#c6c6c6" stroke="#9d9d9c" stroke-width="1" />
<clipPath id="c12"><path d="M626.1 2332.5 L1340.0 2099.8 L1991.0 2312.0 L1334.6 2542.0 L934.6 2410.5 L893.9 2422.4Z"/></clipPath>
<path d="M626.1 2332.5 L1340.0 2099.8 L1991.0 2312.0 L1334.6 2542.0 L934.6 2410.5 L893.9 2422.4Z" fill="#f0b444"/>
<path d="M626.1 2332.5 L1340.0 2099.8 L1991.0 2312.0 L1334.6 2542.0 L934.6 2410.5 L893.9 2422.4Z" fill="none" stroke="#1d1d1b" stroke-width="14.0" clip-path="url(#c12)" stroke-linejoin="miter" stroke-miterlimit="10"/>
<path d="M626.1 2332.5 L1340.0 2099.8 L1991.0 2312.0 L1334.6 2542.0 L934.6 2410.5 L893.9 2422.4Z" fill="none" stroke="#43809f" stroke-width="10.0" clip-path="url(#c12)" stroke-linejoin="miter" stroke-miterlimit="10"/>
<path d="M626.1 2332.5 L1340.0 2099.8 L1991.0 2312.0 L1334.6 2542.0 L934.6 2410.5 L893.9 2422.4Z" fill="none" stroke="#1d1d1b" stroke-width="2.5" stroke-linejoin="miter" stroke-miterlimit="10"/>
<polyline points="589.8,2344.0 628.0,2332.0" fill="none" stroke="#1d1d1b" stroke-width="9" stroke-linejoin="miter"/>
<polyline points="589.8,2344.0 628.0,2332.0" fill="none" stroke="#43809f" stroke-width="6" stroke-linejoin="miter"/>
<polyline points="862.0,2434.0 936.0,2409.0" fill="none" stroke="#1d1d1b" stroke-width="9" stroke-linejoin="miter"/>
<polyline points="862.0,2434.0 936.0,2409.0" fill="none" stroke="#43809f" stroke-width="6" stroke-linejoin="miter"/>
<polygon points="1572.0,2203.0 1604.0,2192.0 1604.0,2214.0 1572.0,2225.0" fill="#575756" stroke="#555" stroke-width="0.8" />
<polyline points="1572.0,2203.0 1604.0,2192.0" fill="none" stroke="#1d1d1b" stroke-width="9" stroke-linejoin="miter"/>
<polyline points="1572.0,2203.0 1604.0,2192.0" fill="none" stroke="#43809f" stroke-width="6" stroke-linejoin="miter"/>
<polyline points="793.9,2280.0 895.6,2313.9 1114.2,2237.6" fill="none" stroke="#1d1d1b" stroke-width="4.5" stroke-linecap="round" stroke-linejoin="miter"/>
<polyline points="1151.5,2225.8 1238.0,2197.0 1139.7,2166.4" fill="none" stroke="#1d1d1b" stroke-width="4.5" stroke-linecap="round" stroke-linejoin="miter"/>
<polyline points="1183.7,2151.2 1278.6,2183.4" fill="none" stroke="#1d1d1b" stroke-width="4.5" stroke-linecap="round" stroke-linejoin="miter"/>
<polyline points="995.6,2309.8 936.3,2328.5 1056.6,2368.1" fill="none" stroke="#1d1d1b" stroke-width="4.5" stroke-linecap="round" stroke-linejoin="miter"/>
<polyline points="934.6,2408.1 1275.3,2297.0" fill="none" stroke="#1d1d1b" stroke-width="4.5" stroke-linecap="round" stroke-linejoin="miter"/>
<polyline points="1044.7,2291.9 1115.9,2268.8 1234.6,2307.8" fill="none" stroke="#1d1d1b" stroke-width="4.5" stroke-linecap="round" stroke-linejoin="miter"/>
<polyline points="1019.3,2300.3 1055.0,2312.0" fill="none" stroke="#1d1d1b" stroke-width="4.5" stroke-linecap="round" stroke-linejoin="miter"/>
<polyline points="1489.3,2225.7 1576.8,2197.0" fill="none" stroke="#1d1d1b" stroke-width="4.5" stroke-linecap="round" stroke-linejoin="miter"/>
<polyline points="1600.0,2263.2 1689.3,2234.3" fill="none" stroke="#1d1d1b" stroke-width="4.5" stroke-linecap="round" stroke-linejoin="miter"/>
<polyline points="1707.0,2300.7 1800.0,2271.0" fill="none" stroke="#1d1d1b" stroke-width="4.5" stroke-linecap="round" stroke-linejoin="miter"/>
<polyline points="1323.0,2281.0 1444.6,2241.4 1553.6,2276.4" fill="none" stroke="#1d1d1b" stroke-width="4.5" stroke-linecap="round" stroke-linejoin="miter"/>
<polyline points="1337.5,2275.7 1728.6,2405.7" fill="none" stroke="#1d1d1b" stroke-width="4.5" stroke-linecap="round" stroke-linejoin="miter"/>
<polyline points="1444.6,2312.0 1525.0,2286.0" fill="none" stroke="#1d1d1b" stroke-width="4.5" stroke-linecap="round" stroke-linejoin="miter"/>
<polyline points="1559.0,2348.6 1671.4,2312.0" fill="none" stroke="#1d1d1b" stroke-width="4.5" stroke-linecap="round" stroke-linejoin="miter"/>
<polyline points="1225.0,2300.0 1262.0,2288.0" fill="none" stroke="#1d1d1b" stroke-width="4.5" stroke-linecap="round" stroke-linejoin="miter"/>
<ellipse cx="1506.4" cy="2172" rx="45" ry="15" fill="#fff" stroke="#1d1d1b" stroke-width="4"/>
<polyline points="1325.0,2166.0 1352.0,2157.0" fill="none" stroke="#1d1d1b" stroke-width="1.5" />
<polyline points="1331.0,2168.0 1358.0,2159.0" fill="none" stroke="#1d1d1b" stroke-width="1.5" />
<polyline points="1337.0,2170.0 1364.0,2161.0" fill="none" stroke="#1d1d1b" stroke-width="1.5" />
<polyline points="1343.0,2172.0 1370.0,2163.0" fill="none" stroke="#1d1d1b" stroke-width="1.5" />
<polygon points="1200.0,1731.5 1318.6,1693.0 1318.6,1723.0 1200.0,1761.5" fill="#575756" stroke="#555" stroke-width="0.8" />
<polygon points="1298.3,1705.6 1967.8,1924.2 1967.8,1951.2 1298.3,1732.6" fill="#c6c6c6" stroke="#555" stroke-width="0.8" />
<polygon points="567.0,1937.8 604.4,1926.0 604.4,1956.0 567.0,1967.8" fill="#575756" stroke="#555" stroke-width="0.8" />
<polygon points="604.4,1929.3 1163.7,1747.0 1163.7,1777.0 604.4,1959.3" fill="#575756" stroke="#3c3c3b" stroke-width="1" />
<polygon points="1163.7,1747.0 1205.0,1761.0 1205.0,1791.0 1163.7,1777.0" fill="#c6c6c6" stroke="#9d9d9c" stroke-width="1" />
<polygon points="1205.0,1761.0 1285.0,1770.0 1285.0,1800.0 1205.0,1791.0" fill="#c6c6c6" stroke="#9d9d9c" stroke-width="1" />
<polygon points="1285.0,1770.0 1298.3,1765.0 1298.3,1795.0 1285.0,1800.0" fill="#575756" stroke="#3c3c3b" stroke-width="1" />
<polygon points="1298.3,1765.0 1471.2,1822.5 1471.2,1852.5 1298.3,1795.0" fill="#c6c6c6" stroke="#9d9d9c" stroke-width="1" />
<polygon points="1471.2,1822.5 1555.9,1794.7 1555.9,1824.7 1471.2,1852.5" fill="#575756" stroke="#3c3c3b" stroke-width="1" />
<polygon points="1555.9,1794.7 1786.4,1870.0 1786.4,1900.0 1555.9,1824.7" fill="#c6c6c6" stroke="#9d9d9c" stroke-width="1" />
<polygon points="1786.4,1870.0 1533.9,1954.7 1533.9,1984.7 1786.4,1900.0" fill="#575756" stroke="#3c3c3b" stroke-width="1" />
<polygon points="1533.9,1954.7 1310.2,1880.2 1310.2,1910.2 1533.9,1984.7" fill="#c6c6c6" stroke="#9d9d9c" stroke-width="1" />
<polygon points="1310.2,1880.2 1372.9,1854.7 1372.9,1884.7 1310.2,1910.2" fill="#575756" stroke="#3c3c3b" stroke-width="1" />
<polygon points="1372.9,1854.7 1240.0,1815.8 1240.0,1845.8 1372.9,1884.7" fill="#c6c6c6" stroke="#9d9d9c" stroke-width="1" />
<polygon points="1240.0,1815.8 1058.6,1875.0 1058.6,1905.0 1240.0,1845.8" fill="#575756" stroke="#3c3c3b" stroke-width="1" />
<polygon points="1058.6,1875.0 1177.3,1914.0 1177.3,1944.0 1058.6,1905.0" fill="#c6c6c6" stroke="#9d9d9c" stroke-width="1" />
<polygon points="1177.3,1914.0 867.0,2017.5 867.0,2047.5 1177.3,1944.0" fill="#575756" stroke="#3c3c3b" stroke-width="1" />
<polygon points="867.0,2017.5 604.4,1929.3 604.4,1959.3 867.0,2047.5" fill="#c6c6c6" stroke="#9d9d9c" stroke-width="1" />
<polygon points="1163.7,1747.0 1240.0,1722.0 1298.3,1741.0 1298.3,1765.0 1285.0,1770.0 1205.0,1761.0" fill="#3c3c3b" stroke="none" stroke-width="0" />
<polygon points="1205.0,1752.0 1262.0,1734.0 1292.0,1744.0 1236.0,1763.0" fill="#fff" stroke="#1d1d1b" stroke-width="1.5" />
<polyline points="1210.0,1751.0 1240.0,1761.0" fill="none" stroke="#1d1d1b" stroke-width="1.3" />
<polyline points="1216.2,1749.0 1246.2,1759.0" fill="none" stroke="#1d1d1b" stroke-width="1.3" />
<polyline points="1222.4,1747.0 1252.4,1757.0" fill="none" stroke="#1d1d1b" stroke-width="1.3" />
<polyline points="1228.6,1745.0 1258.6,1755.0" fill="none" stroke="#1d1d1b" stroke-width="1.3" />
<polyline points="1234.8,1743.0 1264.8,1753.0" fill="none" stroke="#1d1d1b" stroke-width="1.3" />
<polyline points="1241.0,1741.0 1271.0,1751.0" fill="none" stroke="#1d1d1b" stroke-width="1.3" />
<polyline points="1247.2,1739.0 1277.2,1749.0" fill="none" stroke="#1d1d1b" stroke-width="1.3" />
<polyline points="1253.4,1737.0 1283.4,1747.0" fill="none" stroke="#1d1d1b" stroke-width="1.3" />
<polyline points="1259.6,1735.0 1289.6,1745.0" fill="none" stroke="#1d1d1b" stroke-width="1.3" />
<path d="M604.4 1929.3 L1163.7 1747.0 L1205.0 1761.0 L1285.0 1770.0 L1298.3 1765.0 L1471.2 1822.5 L1555.9 1794.7 L1786.4 1870.0 L1533.9 1954.7 L1310.2 1880.2 L1372.9 1854.7 L1240.0 1815.8 L1058.6 1875.0 L1177.3 1914.0 L867.0 2017.5Z" fill="#f1bd5f" stroke="#1d1d1b" stroke-width="2.5"/>
<polygon points="1177.3,1914.0 1310.2,1873.4 1310.2,1903.4 1177.3,1944.0" fill="#575756" stroke="#555" stroke-width="0.8" />
<polyline points="567.0,1937.8 1318.6,1693.0 1324.0,1695.0" fill="none" stroke="#1d1d1b" stroke-width="9" stroke-linejoin="miter"/>
<polyline points="567.0,1937.8 1318.6,1693.0 1324.0,1695.0" fill="none" stroke="#43809f" stroke-width="6" stroke-linejoin="miter"/>
<polyline points="1298.3,1705.6 1955.5,1924.2 1315.3,2139.5 912.9,2007.3" fill="none" stroke="#1d1d1b" stroke-width="9" stroke-linejoin="miter"/>
<polyline points="1298.3,1705.6 1955.5,1924.2 1315.3,2139.5 912.9,2007.3" fill="none" stroke="#43809f" stroke-width="6" stroke-linejoin="miter"/>
<polyline points="604.4,1929.3 867.0,2017.5 1310.2,1873.4" fill="none" stroke="#1d1d1b" stroke-width="9" stroke-linejoin="miter"/>
<polyline points="604.4,1929.3 867.0,2017.5 1310.2,1873.4" fill="none" stroke="#43809f" stroke-width="6" stroke-linejoin="miter"/>
<polyline points="1533.9,1954.7 1786.4,1870.0" fill="none" stroke="#1d1d1b" stroke-width="9" stroke-linejoin="miter"/>
<polyline points="1533.9,1954.7 1786.4,1870.0" fill="none" stroke="#43809f" stroke-width="6" stroke-linejoin="miter"/>
<polyline points="1310.2,1880.2 1533.9,1954.7" fill="none" stroke="#1d1d1b" stroke-width="9" stroke-linejoin="miter"/>
<polyline points="1310.2,1880.2 1533.9,1954.7" fill="none" stroke="#43809f" stroke-width="6" stroke-linejoin="miter"/>
<polyline points="1555.9,1794.7 1590.0,1783.5" fill="none" stroke="#1d1d1b" stroke-width="9" stroke-linejoin="miter"/>
<polyline points="1555.9,1794.7 1590.0,1783.5" fill="none" stroke="#43809f" stroke-width="6" stroke-linejoin="miter"/>
<polygon points="838.3,2027.6 912.9,2003.9 912.9,2033.9 838.3,2057.6" fill="#575756" stroke="#555" stroke-width="0.8" />
<polyline points="838.3,2027.6 912.9,2003.9" fill="none" stroke="#1d1d1b" stroke-width="9" stroke-linejoin="miter"/>
<polyline points="838.3,2027.6 912.9,2003.9" fill="none" stroke="#43809f" stroke-width="6" stroke-linejoin="miter"/>
<polygon points="1967.8,1924.2 1315.3,2139.5 1315.3,2169.5 1967.8,1954.2" fill="#575756" stroke="#555" stroke-width="0.8" />
<polygon points="912.9,2007.3 1315.3,2139.5 1315.3,2169.5 912.9,2037.3" fill="#c6c6c6" stroke="#555" stroke-width="0.8" />
<polyline points="1955.5,1924.2 1315.3,2139.5 912.9,2007.3" fill="none" stroke="#1d1d1b" stroke-width="9" stroke-linejoin="miter"/>
<polyline points="1955.5,1924.2 1315.3,2139.5 912.9,2007.3" fill="none" stroke="#43809f" stroke-width="6" stroke-linejoin="miter"/>
<polyline points="919.7,1828.6 1019.7,1861.5 1095.9,1832.7" fill="none" stroke="#1d1d1b" stroke-width="4.5" stroke-linejoin="miter"/>
<polyline points="1038.3,1789.3 1129.8,1820.8 1140.0,1817.5" fill="none" stroke="#1d1d1b" stroke-width="4.5" stroke-linejoin="miter"/>
<polyline points="1160.3,1780.2 1204.4,1796.1 1163.7,1810.7" fill="none" stroke="#1d1d1b" stroke-width="4.5" stroke-linejoin="miter"/>
<polyline points="1395.0,1844.6 1423.7,1835.4 1528.8,1873.4 1425.4,1909.0" fill="none" stroke="#1d1d1b" stroke-width="4.5" stroke-linejoin="miter"/>
<polyline points="1471.2,1822.5 1547.5,1849.0" fill="none" stroke="#1d1d1b" stroke-width="4.5" stroke-linejoin="miter"/>
<polyline points="1661.0,1831.0 1571.2,1858.0 1580.0,1861.0" fill="none" stroke="#1d1d1b" stroke-width="4.5" stroke-linejoin="miter"/>
<polyline points="1554.2,1881.9 1640.7,1910.7" fill="none" stroke="#1d1d1b" stroke-width="4.5" stroke-linejoin="miter"/>
<polyline points="1567.8,1884.2 1605.0,1871.7 1684.7,1895.4" fill="none" stroke="#1d1d1b" stroke-width="4.5" stroke-linejoin="miter"/>
<polyline points="1471.2,1822.5 1555.9,1794.7" fill="none" stroke="#1d1d1b" stroke-width="4.5" stroke-linejoin="miter"/>
<polyline points="1240.0,1815.8 1372.9,1854.7 1311.9,1875.0" fill="none" stroke="#1d1d1b" stroke-width="4.5" stroke-linejoin="miter"/>
<polyline points="1058.6,1875.0 1177.3,1914.0" fill="none" stroke="#1d1d1b" stroke-width="4.5" stroke-linejoin="miter"/>
<polyline points="1058.6,1875.0 1240.0,1815.8" fill="none" stroke="#1d1d1b" stroke-width="4.5" stroke-linejoin="miter"/>
<circle cx="347.6" cy="168.3" r="40.0" fill="#1f2d6e" stroke="#1d1d1b" stroke-width="6"/>
<text x="347.6" y="188.5" font-size="56" font-weight="bold" fill="#fff" text-anchor="middle"  style="">H</text>
<circle cx="347.6" cy="268.0" r="40.0" fill="#8b87b5" stroke="#1d1d1b" stroke-width="6"/>
<text x="347.6" y="288.2" font-size="56" font-weight="bold" fill="#fff" text-anchor="middle"  style="">P</text>
<circle cx="347.6" cy="369.2" r="40.0" fill="#fff" stroke="#1f2d6e" stroke-width="5"/>
<text x="347.6" y="389.4" font-size="56" font-weight="bold" fill="#1d1d1b" text-anchor="middle"  style="">S</text>
<text x="409.4" y="183.4" font-size="46" font-weight="normal" fill="#1d1d1b" text-anchor="start" textLength="240.0" lengthAdjust="spacingAndGlyphs"  style="">Hörsaal 1..7</text>
<text x="409.4" y="283.0" font-size="46" font-weight="normal" fill="#1d1d1b" text-anchor="start" textLength="237.2" lengthAdjust="spacingAndGlyphs"  style="">PC-Pool 1..6</text>
<text x="411.9" y="379.8" font-size="46" font-weight="normal" fill="#1d1d1b" text-anchor="start" textLength="383.1" lengthAdjust="spacingAndGlyphs"  style="">Seminarraum 1..13</text>
<text x="448.0" y="423.3" font-size="32" font-weight="normal" fill="#1d1d1b" text-anchor="start"  style="">1</text>
<text x="481.8" y="423.3" font-size="32" font-weight="normal" fill="#1d1d1b" text-anchor="start" textLength="202.6" lengthAdjust="spacingAndGlyphs"  style="">Konferenzraum</text>
<text x="743.0" y="423.3" font-size="32" font-weight="normal" fill="#1d1d1b" text-anchor="start"  style="">2</text>
<text x="778.0" y="423.3" font-size="32" font-weight="normal" fill="#1d1d1b" text-anchor="start" textLength="137.0" lengthAdjust="spacingAndGlyphs"  style="">Aristoteles</text>
<text x="448.0" y="463.2" font-size="32" font-weight="normal" fill="#1d1d1b" text-anchor="start"  style="">3</text>
<text x="481.8" y="463.2" font-size="32" font-weight="normal" fill="#1d1d1b" text-anchor="start" textLength="88.7" lengthAdjust="spacingAndGlyphs"  style="">Agnesi</text>
<text x="743.0" y="463.2" font-size="32" font-weight="normal" fill="#1d1d1b" text-anchor="start"  style="">4</text>
<text x="778.0" y="463.2" font-size="32" font-weight="normal" fill="#1d1d1b" text-anchor="start" textLength="156.0" lengthAdjust="spacingAndGlyphs"  style="">Archimedes</text>
<text x="448.0" y="503.1" font-size="32" font-weight="normal" fill="#1d1d1b" text-anchor="start"  style="">5</text>
<text x="481.8" y="503.1" font-size="32" font-weight="normal" fill="#1d1d1b" text-anchor="start" textLength="127.2" lengthAdjust="spacingAndGlyphs"  style="">Agnodike</text>
<text x="743.0" y="503.1" font-size="32" font-weight="normal" fill="#1d1d1b" text-anchor="start"  style="">6</text>
<text x="778.0" y="503.1" font-size="32" font-weight="normal" fill="#1d1d1b" text-anchor="start" textLength="105.0" lengthAdjust="spacingAndGlyphs"  style="">Ampère</text>
<text x="448.0" y="542.9" font-size="32" font-weight="normal" fill="#1d1d1b" text-anchor="start"  style="">7</text>
<text x="481.8" y="542.9" font-size="32" font-weight="normal" fill="#1d1d1b" text-anchor="start" textLength="62.2" lengthAdjust="spacingAndGlyphs"  style="">Bassi</text>
<text x="743.0" y="542.9" font-size="32" font-weight="normal" fill="#1d1d1b" text-anchor="start"  style="">8</text>
<text x="778.0" y="542.9" font-size="32" font-weight="normal" fill="#1d1d1b" text-anchor="start" textLength="101.6" lengthAdjust="spacingAndGlyphs"  style="">Daimler</text>
<text x="448.0" y="582.8" font-size="32" font-weight="normal" fill="#1d1d1b" text-anchor="start"  style="">9</text>
<text x="481.8" y="582.8" font-size="32" font-weight="normal" fill="#1d1d1b" text-anchor="start" textLength="318.1" lengthAdjust="spacingAndGlyphs"  style="">Da Vinci (Startup Bridge)</text>
<text x="448.0" y="622.6" font-size="32" font-weight="normal" fill="#1d1d1b" text-anchor="start" textLength="142.8" lengthAdjust="spacingAndGlyphs"  style="">10 Doudna</text>
<text x="743.0" y="622.6" font-size="32" font-weight="normal" fill="#1d1d1b" text-anchor="start" textLength="144.7" lengthAdjust="spacingAndGlyphs"  style="">11 Doupler</text>
<text x="448.0" y="662.5" font-size="32" font-weight="normal" fill="#1d1d1b" text-anchor="start" textLength="139.6" lengthAdjust="spacingAndGlyphs"  style="">12 Einstein</text>
<text x="743.0" y="662.5" font-size="32" font-weight="normal" fill="#1d1d1b" text-anchor="start" textLength="139.4" lengthAdjust="spacingAndGlyphs"  style="">13 Godhall</text>
<rect x="1191.5" y="133.0" width="510.5" height="204.0" fill="#f7db8b"/>
<text x="1206.0" y="181.0" font-size="40" font-weight="bold" fill="#fff" text-anchor="start" textLength="204.5" lengthAdjust="spacingAndGlyphs"  style="">Gebäude D</text>
<text x="1584.4" y="181.0" font-size="40" font-weight="bold" fill="#fff" text-anchor="start" textLength="88.6" lengthAdjust="spacingAndGlyphs"  style="">2.OG</text>
<text x="1419.7" y="225.7" font-size="33" font-weight="normal" fill="#1d1d1b" text-anchor="start" textLength="252.3" lengthAdjust="spacingAndGlyphs"  style="">Industrie 4.0 Lab</text>
<text x="1529.5" y="275.8" font-size="33" font-weight="normal" fill="#1d1d1b" text-anchor="start" textLength="143.5" lengthAdjust="spacingAndGlyphs"  style="">Bibliothek</text>
<text x="1206.0" y="319.7" font-size="33" font-weight="normal" fill="#1d1d1b" text-anchor="start" textLength="467.0" lengthAdjust="spacingAndGlyphs"  style="">Mikrosystemtechnik (Reinraum)</text>
<polyline points="1714.4,214.8 2299.0,214.8" fill="none" stroke="#1f2d6e" stroke-width="3.6" stroke-linejoin="miter"/>
<rect x="2299.0" y="206.3" width="17" height="17" fill="none" stroke="#1f2d6e" stroke-width="3.6"/>
<polyline points="1714.4,268.5 2823.0,268.5" fill="none" stroke="#1f2d6e" stroke-width="3.6" stroke-linejoin="miter"/>
<rect x="2823.5" y="260.3" width="17" height="17" fill="none" stroke="#1f2d6e" stroke-width="3.6"/>
<polyline points="1714.4,316.0 2373.0,316.0" fill="none" stroke="#1f2d6e" stroke-width="3.6" stroke-linejoin="miter"/>
<rect x="2373.0" y="307.5" width="17" height="17" fill="none" stroke="#1f2d6e" stroke-width="3.6"/>
<rect x="1191.5" y="502.0" width="510.5" height="192.0" fill="#f5d47e"/>
<text x="1206.0" y="556.4" font-size="40" font-weight="bold" fill="#fff" text-anchor="start" textLength="204.5" lengthAdjust="spacingAndGlyphs"  style="">Gebäude D</text>
<text x="1584.4" y="556.4" font-size="40" font-weight="bold" fill="#fff" text-anchor="start" textLength="88.6" lengthAdjust="spacingAndGlyphs"  style="">1.OG</text>
<text x="1406.0" y="610.0" font-size="33" font-weight="normal" fill="#1d1d1b" text-anchor="start" textLength="267.0" lengthAdjust="spacingAndGlyphs"  style="">Verfahrenstechnik</text>
<text x="1409.0" y="665.0" font-size="33" font-weight="normal" fill="#1d1d1b" text-anchor="start" textLength="264.0" lengthAdjust="spacingAndGlyphs"  style="">Fertigungstechnik</text>
<polyline points="1714.4,599.0 2919.0,599.0 2919.0,450.5" fill="none" stroke="#1f2d6e" stroke-width="3.6" stroke-linejoin="miter"/>
<rect x="2910.5" y="433.5" width="17" height="17" fill="none" stroke="#1f2d6e" stroke-width="3.6"/>
<polyline points="1714.4,656.5 2273.0,656.5" fill="none" stroke="#1f2d6e" stroke-width="3.6" stroke-linejoin="miter"/>
<rect x="2273.2" y="648.0" width="17" height="17" fill="none" stroke="#1f2d6e" stroke-width="3.6"/>
<rect x="4066.0" y="214.0" width="451.0" height="180.0" fill="#adc7ea"/>
<text x="4078.5" y="259.0" font-size="40" font-weight="bold" fill="#fff" text-anchor="start" textLength="320.3" lengthAdjust="spacingAndGlyphs"  style="">Gebäude E (EDV)</text>
<text x="4400.7" y="305.7" font-size="40" font-weight="bold" fill="#fff" text-anchor="start" textLength="89.7" lengthAdjust="spacingAndGlyphs"  style="">1.OG</text>
<text x="4085.6" y="366.5" font-size="33" font-weight="normal" fill="#1d1d1b" text-anchor="start" textLength="206.2" lengthAdjust="spacingAndGlyphs"  style="">Robotik-Labor</text>
<polyline points="4053.0,353.7 3277.0,353.7 3277.0,425.0" fill="none" stroke="#1f2d6e" stroke-width="3.6" stroke-linejoin="miter"/>
<rect x="3268.5" y="425.1" width="17" height="17" fill="none" stroke="#1f2d6e" stroke-width="3.6"/>
<rect x="4066.0" y="846.0" width="451.3" height="200.7" fill="#a9dcf2"/>
<text x="4078.7" y="889.3" font-size="40" font-weight="bold" fill="#fff" text-anchor="start" textLength="356.2" lengthAdjust="spacingAndGlyphs"  style="">Gebäude A (Altbau)</text>
<text x="4399.0" y="934.9" font-size="40" font-weight="bold" fill="#fff" text-anchor="start" textLength="89.0" lengthAdjust="spacingAndGlyphs"  style="">2.OG</text>
<text x="4085.6" y="993.0" font-size="33" font-weight="normal" fill="#1d1d1b" text-anchor="start" textLength="251.3" lengthAdjust="spacingAndGlyphs"  style="">Platinenfertigung</text>
<polyline points="4049.0,993.3 3282.6,993.3 3282.6,1279.0" fill="none" stroke="#1f2d6e" stroke-width="3.6" stroke-linejoin="miter"/>
<rect x="3274.1" y="1279.1" width="17" height="17" fill="none" stroke="#1f2d6e" stroke-width="3.6"/>
<rect x="4066.0" y="1115.3" width="451.3" height="209.7" fill="#9bd3ee"/>
<text x="4078.7" y="1157.3" font-size="40" font-weight="bold" fill="#fff" text-anchor="start" textLength="356.2" lengthAdjust="spacingAndGlyphs"  style="">Gebäude A (Altbau)</text>
<text x="4401.0" y="1203.5" font-size="40" font-weight="bold" fill="#fff" text-anchor="start" textLength="88.0" lengthAdjust="spacingAndGlyphs"  style="">1.OG</text>
<text x="4085.6" y="1224.8" font-size="33" font-weight="normal" fill="#1d1d1b" text-anchor="start" textLength="178.1" lengthAdjust="spacingAndGlyphs"  style="">Projektraum</text>
<text x="4085.6" y="1265.0" font-size="33" font-weight="normal" fill="#1d1d1b" text-anchor="start" textLength="138.9" lengthAdjust="spacingAndGlyphs"  style="">SmartLab</text>
<text x="4085.6" y="1307.0" font-size="33" font-weight="normal" fill="#1d1d1b" text-anchor="start" textLength="171.4" lengthAdjust="spacingAndGlyphs"  style="">SmartRoom</text>
<polyline points="4051.0,1213.2 3738.0,1213.2 3738.0,1316.0" fill="none" stroke="#1f2d6e" stroke-width="3.6" stroke-linejoin="miter"/>
<rect x="3729.8" y="1316.5" width="17" height="17" fill="none" stroke="#1f2d6e" stroke-width="3.6"/>
<polyline points="4051.0,1252.2 3672.0,1252.2" fill="none" stroke="#1f2d6e" stroke-width="3.6" stroke-linejoin="miter"/>
<rect x="3654.5" y="1243.5" width="17" height="17" fill="none" stroke="#1f2d6e" stroke-width="3.6"/>
<polyline points="4051.0,1293.2 3837.0,1293.2" fill="none" stroke="#1f2d6e" stroke-width="3.6" stroke-linejoin="miter"/>
<rect x="3820.1" y="1284.9" width="17" height="17" fill="none" stroke="#1f2d6e" stroke-width="3.6"/>
<rect x="4063.0" y="1425.4" width="449.7" height="168.3" fill="#dc7c2c"/>
<text x="4074.6" y="1469.7" font-size="40" font-weight="bold" fill="#fff" text-anchor="start" textLength="190.8" lengthAdjust="spacingAndGlyphs"  style="">Gebäude F</text>
<text x="4439.0" y="1469.7" font-size="40" font-weight="bold" fill="#fff" text-anchor="start" textLength="46.6" lengthAdjust="spacingAndGlyphs"  style="">EG</text>
<text x="4082.0" y="1570.6" font-size="33" font-weight="normal" fill="#1d1d1b" text-anchor="start" textLength="246.8" lengthAdjust="spacingAndGlyphs"  style="">Netzwerktechnik</text>
<polyline points="4051.0,1576.2 3870.5,1576.2 3870.5,1385.5" fill="none" stroke="#1f2d6e" stroke-width="3.6" stroke-linejoin="miter"/>
<rect x="3862.0" y="1368.3" width="17" height="17" fill="none" stroke="#1f2d6e" stroke-width="3.6"/>
<rect x="31.0" y="1669.0" width="432.0" height="125.0" fill="#f1bd60"/>
<text x="44.0" y="1719.0" font-size="36" font-weight="bold" fill="#fff" text-anchor="start" textLength="203.5" lengthAdjust="spacingAndGlyphs"  style="">Gebäude G</text>
<text x="350.0" y="1719.0" font-size="36" font-weight="bold" fill="#fff" text-anchor="start" textLength="89.0" lengthAdjust="spacingAndGlyphs"  style="">1.OG</text>
<text x="204.0" y="1776.7" font-size="31" font-weight="normal" fill="#1d1d1b" text-anchor="start" textLength="233.5" lengthAdjust="spacingAndGlyphs"  style="">P6 = Medien-Rz</text>
<polyline points="481.0,1766.7 866.5,1766.7 866.5,1885.5" fill="none" stroke="#1f2d6e" stroke-width="3.6" stroke-linejoin="miter"/>
<rect x="858.0" y="1885.5" width="17" height="17" fill="none" stroke="#1f2d6e" stroke-width="3.6"/>
<rect x="31.0" y="2135.0" width="432.0" height="303.0" fill="#f0b445"/>
<text x="44.0" y="2183.0" font-size="36" font-weight="bold" fill="#fff" text-anchor="start" textLength="196.0" lengthAdjust="spacingAndGlyphs"  style="">Gebäude G</text>
<text x="210.0" y="2229.0" font-size="36" font-weight="bold" fill="#fff" text-anchor="start" textLength="231.7" lengthAdjust="spacingAndGlyphs"  style="">Erdgeschoss</text>
<text x="272.5" y="2285.0" font-size="31" font-weight="normal" fill="#1d1d1b" text-anchor="start" textLength="169.2" lengthAdjust="spacingAndGlyphs"  style="">Regieraum,</text>
<text x="83.0" y="2325.0" font-size="31" font-weight="normal" fill="#1d1d1b" text-anchor="start" textLength="358.7" lengthAdjust="spacingAndGlyphs"  style="">Video- und Audio-Studio</text>
<text x="146.0" y="2373.0" font-size="31" font-weight="normal" fill="#1d1d1b" text-anchor="start" textLength="295.7" lengthAdjust="spacingAndGlyphs"  style="">Virtual Reality Labor</text>
<text x="231.0" y="2423.0" font-size="31" font-weight="normal" fill="#1d1d1b" text-anchor="start" textLength="210.7" lengthAdjust="spacingAndGlyphs"  style="">H7 = Audimax</text>
<polyline points="481.0,2294.2 1607.0,2294.2" fill="none" stroke="#1f2d6e" stroke-width="3.6" stroke-linejoin="miter"/>
<rect x="1606.9" y="2287.0" width="17" height="17" fill="none" stroke="#1f2d6e" stroke-width="3.6"/>
<polyline points="481.0,2366.4 849.0,2366.4" fill="none" stroke="#1f2d6e" stroke-width="3.6" stroke-linejoin="miter"/>
<rect x="849.1" y="2358.5" width="17" height="17" fill="none" stroke="#1f2d6e" stroke-width="3.6"/>
<polyline points="481.0,2415.6 1207.5,2415.6" fill="none" stroke="#1f2d6e" stroke-width="3.6" stroke-linejoin="miter"/>
<rect x="1207.5" y="2408.5" width="17" height="17" fill="none" stroke="#1f2d6e" stroke-width="3.6"/>
<text x="423.5" y="1070.5" font-size="46" font-weight="normal" fill="#1d1d1b" text-anchor="start" textLength="338.4" lengthAdjust="spacingAndGlyphs"  style="">Startup Bridge &amp;</text>
<circle cx="807.4" cy="1046.7" r="34.5" fill="#fff" stroke="#1f2d6e" stroke-width="4.5"/>
<text x="807.4" y="1060.4" font-size="38" font-weight="bold" fill="#1d1d1b" text-anchor="middle" textLength="48.0" lengthAdjust="spacingAndGlyphs"  style="">S9</text>
<text x="469.3" y="1112.2" font-size="32" font-weight="normal" fill="#1d1d1b" text-anchor="start" textLength="384.9" lengthAdjust="spacingAndGlyphs"  style="">im Souterrain des Gebäude D</text>
<polyline points="865.5,1078.6 2287.6,1078.6 2287.6,1197.0" fill="none" stroke="#1f2d6e" stroke-width="3.6" stroke-linejoin="miter"/>
<path d="M301 1047 V1061 A12 12 0 0 0 325 1061 V1047" fill="none" stroke="#3b2a98" stroke-width="9"/>
<path d="M327 1037 V1012 M313 1022 L327 1008 L341 1022" fill="none" stroke="#3b2a98" stroke-width="9"/>
<path d="M345 1009 H354 A14.5 14.5 0 0 1 354 1038 H345" fill="none" stroke="#3b2a98" stroke-width="9"/>
<text x="343.8" y="1059.5" font-size="13" font-weight="normal" fill="#3b2a98" text-anchor="start" textLength="44.0" lengthAdjust="spacingAndGlyphs"  style="">START</text>
<text x="390.5" y="1059.5" font-size="13" font-weight="bold" fill="#3b2a98" text-anchor="start" textLength="22.5" lengthAdjust="spacingAndGlyphs"  style="">UP</text>
<text x="343.8" y="1073.5" font-size="13" font-weight="normal" fill="#3b2a98" text-anchor="start" textLength="54.0" lengthAdjust="spacingAndGlyphs"  style="">BRIDGE</text>
<rect x="2017.0" y="856.0" width="66" height="80" rx="11" fill="#fff" stroke="#1f2d6e" stroke-width="4"/>
<text x="2050.0" y="918.3" font-size="62" font-weight="bold" fill="#1d1d1b" text-anchor="middle"  style="">P</text>
<rect x="1648.0" y="964.0" width="66" height="80" rx="11" fill="#fff" stroke="#1f2d6e" stroke-width="4"/>
<text x="1681.0" y="1026.3" font-size="62" font-weight="bold" fill="#1d1d1b" text-anchor="middle"  style="">P</text>
<rect x="2305.0" y="1771.0" width="66" height="80" rx="11" fill="#fff" stroke="#1f2d6e" stroke-width="4"/>
<text x="2338.0" y="1833.3" font-size="62" font-weight="bold" fill="#1d1d1b" text-anchor="middle"  style="">P</text>
<rect x="614.0" y="2477.0" width="66" height="80" rx="11" fill="#fff" stroke="#1f2d6e" stroke-width="4"/>
<text x="647.0" y="2539.3" font-size="62" font-weight="bold" fill="#1d1d1b" text-anchor="middle"  style="">P</text>
<rect x="1972.4" y="2477.5" width="66" height="80" rx="11" fill="#fff" stroke="#1f2d6e" stroke-width="4"/>
<text x="2005.4" y="2539.8" font-size="62" font-weight="bold" fill="#1d1d1b" text-anchor="middle"  style="">P</text>
<circle cx="2773.2" cy="135.0" r="40.5" fill="#1f2d6e" stroke="#1d1d1b" stroke-width="5"/>
<text x="2773.2" y="152.3" font-size="48" font-weight="bold" fill="#fff" text-anchor="middle" textLength="55.0" lengthAdjust="spacingAndGlyphs"  style="">H5</text>
<circle cx="2696.7" cy="931.7" r="46.0" fill="#1f2d6e" stroke="#1d1d1b" stroke-width="5"/>
<text x="2696.7" y="951.1" font-size="54" font-weight="bold" fill="#fff" text-anchor="middle" textLength="62.0" lengthAdjust="spacingAndGlyphs"  style="">H6</text>
<circle cx="2769.5" cy="1113.1" r="46.0" fill="#1f2d6e" stroke="#1d1d1b" stroke-width="5"/>
<text x="2769.5" y="1132.5" font-size="54" font-weight="bold" fill="#fff" text-anchor="middle" textLength="62.0" lengthAdjust="spacingAndGlyphs"  style="">H4</text>
<circle cx="2374.4" cy="1273.0" r="46.0" fill="#1f2d6e" stroke="#1d1d1b" stroke-width="5"/>
<text x="2374.4" y="1292.4" font-size="54" font-weight="bold" fill="#fff" text-anchor="middle" textLength="62.0" lengthAdjust="spacingAndGlyphs"  style="">H3</text>
<circle cx="1654.0" cy="1369.8" r="46.0" fill="#1f2d6e" stroke="#1d1d1b" stroke-width="5"/>
<text x="1654.0" y="1389.2" font-size="54" font-weight="bold" fill="#fff" text-anchor="middle" textLength="62.0" lengthAdjust="spacingAndGlyphs"  style="">H2</text>
<circle cx="1980.6" cy="1482.0" r="46.0" fill="#1f2d6e" stroke="#1d1d1b" stroke-width="5"/>
<text x="1980.6" y="1501.4" font-size="54" font-weight="bold" fill="#fff" text-anchor="middle" textLength="62.0" lengthAdjust="spacingAndGlyphs"  style="">H1</text>
<circle cx="1325.0" cy="2404.5" r="46.0" fill="#1f2d6e" stroke="#1d1d1b" stroke-width="5"/>
<text x="1325.0" y="2423.9" font-size="54" font-weight="bold" fill="#fff" text-anchor="middle" textLength="62.0" lengthAdjust="spacingAndGlyphs"  style="">H7</text>
<circle cx="2871.3" cy="837.8" r="40.0" fill="#8b87b5" stroke="#1d1d1b" stroke-width="5"/>
<text x="2871.3" y="853.6" font-size="44" font-weight="bold" fill="#fff" text-anchor="middle" textLength="50.0" lengthAdjust="spacingAndGlyphs"  style="">P2</text>
<circle cx="3079.6" cy="784.0" r="40.0" fill="#8b87b5" stroke="#1d1d1b" stroke-width="5"/>
<text x="3079.6" y="799.8" font-size="44" font-weight="bold" fill="#fff" text-anchor="middle" textLength="50.0" lengthAdjust="spacingAndGlyphs"  style="">P3</text>
<circle cx="3403.0" cy="647.4" r="40.0" fill="#8b87b5" stroke="#1d1d1b" stroke-width="5"/>
<text x="3403.0" y="663.2" font-size="44" font-weight="bold" fill="#fff" text-anchor="middle" textLength="50.0" lengthAdjust="spacingAndGlyphs"  style="">P4</text>
<circle cx="3692.8" cy="725.4" r="40.0" fill="#8b87b5" stroke="#1d1d1b" stroke-width="5"/>
<text x="3692.8" y="741.2" font-size="44" font-weight="bold" fill="#fff" text-anchor="middle" textLength="50.0" lengthAdjust="spacingAndGlyphs"  style="">P5</text>
<circle cx="1453.8" cy="1438.4" r="40.0" fill="#8b87b5" stroke="#1d1d1b" stroke-width="5"/>
<text x="1453.8" y="1454.2" font-size="44" font-weight="bold" fill="#fff" text-anchor="middle" textLength="50.0" lengthAdjust="spacingAndGlyphs"  style="">P1</text>
<circle cx="941.7" cy="1906.3" r="40.0" fill="#8b87b5" stroke="#1d1d1b" stroke-width="5"/>
<text x="941.7" y="1922.1" font-size="44" font-weight="bold" fill="#fff" text-anchor="middle" textLength="50.0" lengthAdjust="spacingAndGlyphs"  style="">P6</text>
<circle cx="2645.0" cy="729.6" r="35.0" fill="#fff" stroke="#1f2d6e" stroke-width="4.5"/>
<text x="2645.0" y="742.2" font-size="35" font-weight="bold" fill="#1d1d1b" text-anchor="middle" textLength="58.0" lengthAdjust="spacingAndGlyphs"  style="">S10</text>
<circle cx="3418.5" cy="390.2" r="35.0" fill="#fff" stroke="#1f2d6e" stroke-width="4.5"/>
<text x="3418.5" y="402.8" font-size="35" font-weight="bold" fill="#1d1d1b" text-anchor="middle" textLength="58.0" lengthAdjust="spacingAndGlyphs"  style="">S12</text>
<circle cx="3396.6" cy="1139.5" r="35.0" fill="#fff" stroke="#1f2d6e" stroke-width="4.5"/>
<text x="3396.6" y="1154.6" font-size="42" font-weight="bold" fill="#1d1d1b" text-anchor="middle" textLength="48.0" lengthAdjust="spacingAndGlyphs"  style="">S6</text>
<circle cx="2289.7" cy="1232.5" r="35.0" fill="#fff" stroke="#1f2d6e" stroke-width="4.5"/>
<text x="2289.7" y="1247.6" font-size="42" font-weight="bold" fill="#1d1d1b" text-anchor="middle" textLength="48.0" lengthAdjust="spacingAndGlyphs"  style="">S9</text>
<circle cx="2138.0" cy="1307.8" r="35.0" fill="#fff" stroke="#1f2d6e" stroke-width="4.5"/>
<text x="2138.0" y="1322.9" font-size="42" font-weight="bold" fill="#1d1d1b" text-anchor="middle" textLength="48.0" lengthAdjust="spacingAndGlyphs"  style="">S8</text>
<circle cx="2716.7" cy="1533.0" r="35.0" fill="#fff" stroke="#1f2d6e" stroke-width="4.5"/>
<text x="2716.7" y="1548.1" font-size="42" font-weight="bold" fill="#1d1d1b" text-anchor="middle" textLength="48.0" lengthAdjust="spacingAndGlyphs"  style="">S7</text>
<circle cx="3104.7" cy="1549.3" r="35.0" fill="#fff" stroke="#1f2d6e" stroke-width="4.5"/>
<text x="3104.7" y="1564.4" font-size="42" font-weight="bold" fill="#1d1d1b" text-anchor="middle" textLength="48.0" lengthAdjust="spacingAndGlyphs"  style="">S5</text>
<circle cx="3225.7" cy="1593.9" r="35.0" fill="#fff" stroke="#1f2d6e" stroke-width="4.5"/>
<text x="3225.7" y="1609.0" font-size="42" font-weight="bold" fill="#1d1d1b" text-anchor="middle" textLength="48.0" lengthAdjust="spacingAndGlyphs"  style="">S1</text>
<circle cx="3495.4" cy="1506.4" r="35.0" fill="#fff" stroke="#1f2d6e" stroke-width="4.5"/>
<text x="3495.4" y="1521.5" font-size="42" font-weight="bold" fill="#1d1d1b" text-anchor="middle" textLength="48.0" lengthAdjust="spacingAndGlyphs"  style="">S2</text>
<circle cx="3596.5" cy="1472.2" r="35.0" fill="#fff" stroke="#1f2d6e" stroke-width="4.5"/>
<text x="3596.5" y="1487.3" font-size="42" font-weight="bold" fill="#1d1d1b" text-anchor="middle" textLength="48.0" lengthAdjust="spacingAndGlyphs"  style="">S3</text>
<circle cx="3820.9" cy="1504.4" r="35.0" fill="#fff" stroke="#1f2d6e" stroke-width="4.5"/>
<text x="3820.9" y="1519.5" font-size="42" font-weight="bold" fill="#1d1d1b" text-anchor="middle" textLength="48.0" lengthAdjust="spacingAndGlyphs"  style="">S4</text>
<circle cx="1023.7" cy="2230.8" r="35.0" fill="#fff" stroke="#1f2d6e" stroke-width="4.5"/>
<text x="1023.7" y="2243.4" font-size="35" font-weight="bold" fill="#1d1d1b" text-anchor="middle" textLength="58.0" lengthAdjust="spacingAndGlyphs"  style="">S13</text>
<rect x="2393.9" y="536.0" width="78" height="53" rx="9" fill="#fff" stroke="#1f2d6e" stroke-width="4"/>
<text x="2432.9" y="576.9" font-size="40" font-weight="bold" fill="#1d1d1b" text-anchor="middle" textLength="57.7" lengthAdjust="spacingAndGlyphs"  style="">WC</text>
<rect x="2374.0" y="131.5" width="78" height="53" rx="9" fill="#fff" stroke="#1f2d6e" stroke-width="4"/>
<text x="2413.0" y="172.4" font-size="40" font-weight="bold" fill="#1d1d1b" text-anchor="middle" textLength="57.7" lengthAdjust="spacingAndGlyphs"  style="">WC</text>
<rect x="3537.0" y="473.0" width="78" height="53" rx="9" fill="#fff" stroke="#1f2d6e" stroke-width="4"/>
<text x="3576.0" y="513.9" font-size="40" font-weight="bold" fill="#1d1d1b" text-anchor="middle" textLength="57.7" lengthAdjust="spacingAndGlyphs"  style="">WC</text>
<rect x="3149.0" y="871.5" width="78" height="53" rx="9" fill="#fff" stroke="#1f2d6e" stroke-width="4"/>
<text x="3188.0" y="912.4" font-size="40" font-weight="bold" fill="#1d1d1b" text-anchor="middle" textLength="57.7" lengthAdjust="spacingAndGlyphs"  style="">WC</text>
<rect x="2340.0" y="1169.1" width="78" height="53" rx="9" fill="#fff" stroke="#1f2d6e" stroke-width="4"/>
<text x="2379.0" y="1210.0" font-size="40" font-weight="bold" fill="#1d1d1b" text-anchor="middle" textLength="57.7" lengthAdjust="spacingAndGlyphs"  style="">WC</text>
<rect x="1977.7" y="1315.5" width="78" height="53" rx="9" fill="#fff" stroke="#1f2d6e" stroke-width="4"/>
<text x="2016.7" y="1356.4" font-size="40" font-weight="bold" fill="#1d1d1b" text-anchor="middle" textLength="57.7" lengthAdjust="spacingAndGlyphs"  style="">WC</text>
<rect x="3697.9" y="1405.9" width="78" height="53" rx="9" fill="#fff" stroke="#1f2d6e" stroke-width="4"/>
<text x="3736.9" y="1446.8" font-size="40" font-weight="bold" fill="#1d1d1b" text-anchor="middle" textLength="57.7" lengthAdjust="spacingAndGlyphs"  style="">WC</text>
<rect x="1052.5" y="2308.8" width="78" height="53" rx="9" fill="#fff" stroke="#1f2d6e" stroke-width="4"/>
<text x="1091.5" y="2349.7" font-size="40" font-weight="bold" fill="#1d1d1b" text-anchor="middle" textLength="57.7" lengthAdjust="spacingAndGlyphs"  style="">WC</text>
<circle cx="3287.6" cy="756" r="37" fill="#fff" stroke="#2f6fbf" stroke-width="3.5"/>
<path d="M3267 746 H3290 M3278 746 V778 H3303 M3281 734 H3290 A12 12 0 0 1 3290 760 H3284" fill="none" stroke="#2f6fbf" stroke-width="8"/>
<text x="0" y="0" font-size="43" fill="#1d1d1b" transform="translate(2001.7 1021.3) rotate(18.5)" textLength="163" lengthAdjust="spacingAndGlyphs">Eingang</text>
<polygon points="2222.2,1118.7 2252.4,1108.8 2295.2,1112.0 2290.0,1097.3 2315.5,1088.2 2349.6,1129.8" fill="#e30613" stroke="none" stroke-width="0" />
<polygon points="2968.6,678.8 2998.3,670.2 3032.9,672.9 3025.7,661.5 3051.9,652.0 3084.0,689.5" fill="#e30613" stroke="none" stroke-width="0" />
<text x="0" y="0" font-size="43" fill="#1d1d1b" transform="translate(2135.0 1655.0) rotate(-19.0)" textLength="162" lengthAdjust="spacingAndGlyphs">Eingang</text>
<polygon points="2247.1,1559.2 2371.0,1548.1 2337.3,1588.4 2311.3,1579.2 2319.8,1568.1 2283.3,1570.6" fill="#e30613" stroke="none" stroke-width="0" />
<text x="0" y="0" font-size="43" fill="#1d1d1b" transform="translate(2660.0 1886.0) rotate(-19.0)" textLength="162" lengthAdjust="spacingAndGlyphs">Eingang</text>
<polygon points="2788.2,1786.8 2912.1,1775.7 2878.4,1816.0 2852.4,1806.8 2860.9,1795.7 2824.4,1798.2" fill="#e30613" stroke="none" stroke-width="0" />
<text x="0" y="0" font-size="43" fill="#1d1d1b" transform="translate(1693.0 2103.0) rotate(-19.0)" textLength="158" lengthAdjust="spacingAndGlyphs">Eingang</text>
<polygon points="1553.6,2146.0 1605.4,2084.3 1646.4,2097.0 1626.8,2122.0 1700.0,2116.4 1742.9,2129.3" fill="#e30613" stroke="none" stroke-width="0" />
<text x="0" y="0" font-size="108" font-style="normal" fill="#1d1d1b" transform="matrix(0.9507 0.31 0.9507 -0.31 1922.0 1884.6) scale(1 -1)" textLength="507" lengthAdjust="spacingAndGlyphs">Feldstraße</text>
<line x1="3292.4" y1="2565" x2="3072" y2="2637" stroke="#dcdcdc" stroke-width="16.5" stroke-dasharray="54.5 46.4"/>
<line x1="4188.1" y1="2269" x2="4408" y2="2197" stroke="#dcdcdc" stroke-width="16.5" stroke-dasharray="54.5 46.4"/>
<line x1="3543.9" y1="2396.3" x2="3655" y2="2434" stroke="#dadada" stroke-width="30" stroke-linecap="round"/>
<line x1="3352" y1="2540" x2="4132" y2="2285" stroke="#dadada" stroke-width="27"/>
<polyline points="3452,2467 3352,2540 3472,2543" fill="none" stroke="#dadada" stroke-width="26" stroke-linejoin="miter" stroke-miterlimit="10"/>
<polyline points="4012,2282 4132.6,2284.7 4036,2356" fill="none" stroke="#dadada" stroke-width="26" stroke-linejoin="miter" stroke-miterlimit="10"/>
<g transform="translate(3688.7 2322.9) rotate(-17.3)">
<path d="M8 0 H240 Q253 0 253 13 V52 L236 62 H4 Q0 62 0 58 V8 Q0 0 8 0Z M0 40 V72 H30 V40Z" fill="#8c8c8b"/>
<rect x="0" y="10" width="30" height="62" rx="5" fill="#8c8c8b"/>
<rect x="6" y="12" width="20" height="52" rx="5" fill="#fff"/>
<rect x="38" y="9" width="42" height="25" rx="5" fill="#fff"/>
<rect x="88" y="9" width="44" height="25" rx="5" fill="#fff"/>
<rect x="140" y="9" width="44" height="25" rx="5" fill="#fff"/>
<rect x="192" y="9" width="44" height="25" rx="5" fill="#fff"/>
<circle cx="62" cy="68" r="14" fill="#a8a8a7"/><circle cx="62" cy="68" r="8" fill="#e8e8e8"/><circle cx="62" cy="68" r="5" fill="#c4c4c4"/>
<circle cx="198" cy="68" r="14" fill="#a8a8a7"/><circle cx="198" cy="68" r="8" fill="#e8e8e8"/><circle cx="198" cy="68" r="5" fill="#c4c4c4"/>
</g>
<text x="0" y="0" font-size="44" fill="#1d1d1b" transform="translate(3710.0 2300.0) rotate(-19.3)" textLength="186" lengthAdjust="spacingAndGlyphs">Linie 189</text>
<text x="0" y="0" font-size="54" font-style="normal" fill="#1d1d1b" transform="matrix(0.9507 0.31 0.9507 -0.31 3349.0 2300.0) scale(1 -1)" textLength="298" lengthAdjust="spacingAndGlyphs">Feldstraße</text>
<text x="0" y="0" font-size="48" fill="#1d1d1b" transform="translate(3567.7 2529.2) rotate(-18.0)" textLength="307" lengthAdjust="spacingAndGlyphs">Industriestraße</text>
<circle cx="3482.4" cy="2445.0" r="40" fill="#f3d63a"/>
<circle cx="3482.4" cy="2445.0" r="38" fill="#159a3c"/>
<circle cx="3482.4" cy="2445.0" r="28" fill="#fbd03b"/>
<text x="3482.4" y="2460.5" font-size="44" font-weight="bold" fill="#159a3c" text-anchor="middle" textLength="31.0" lengthAdjust="spacingAndGlyphs"  style="">H</text>
<circle cx="3969.3" cy="2387.1" r="40" fill="#f3d63a"/>
<circle cx="3969.3" cy="2387.1" r="38" fill="#159a3c"/>
<circle cx="3969.3" cy="2387.1" r="28" fill="#fbd03b"/>
<text x="3969.3" y="2402.6" font-size="44" font-weight="bold" fill="#159a3c" text-anchor="middle" textLength="31.0" lengthAdjust="spacingAndGlyphs"  style="">H</text>
<text x="0" y="0" font-size="32" fill="#1d1d1b" transform="translate(3128.5 2485.0) rotate(-18.3)" textLength="250" lengthAdjust="spacingAndGlyphs">Ri. S-Blankenese</text>
<text x="0" y="0" font-size="32" fill="#1d1d1b" transform="translate(3141.5 2524.0) rotate(-18.3)" textLength="183" lengthAdjust="spacingAndGlyphs">von dort mit</text>
<text x="0" y="0" font-size="32" fill="#1d1d1b" transform="translate(3154.5 2562.0) rotate(-18.3)" textLength="238" lengthAdjust="spacingAndGlyphs">S1 nach HH-HBf</text>
<text x="4025.2" y="2411.5" font-size="32" font-weight="normal" fill="#1d1d1b" text-anchor="start" textLength="167.5" lengthAdjust="spacingAndGlyphs"  style="">Ri. S-Wedel</text>
<text x="4025.2" y="2451.5" font-size="32" font-weight="normal" fill="#1d1d1b" text-anchor="start" textLength="259.8" lengthAdjust="spacingAndGlyphs"  style="">von S-Blankenese</text>
<text x="4025.2" y="2491.0" font-size="32" font-weight="normal" fill="#1d1d1b" text-anchor="start" textLength="142.8" lengthAdjust="spacingAndGlyphs"  style="">kommend</text>
</svg></body></html>
